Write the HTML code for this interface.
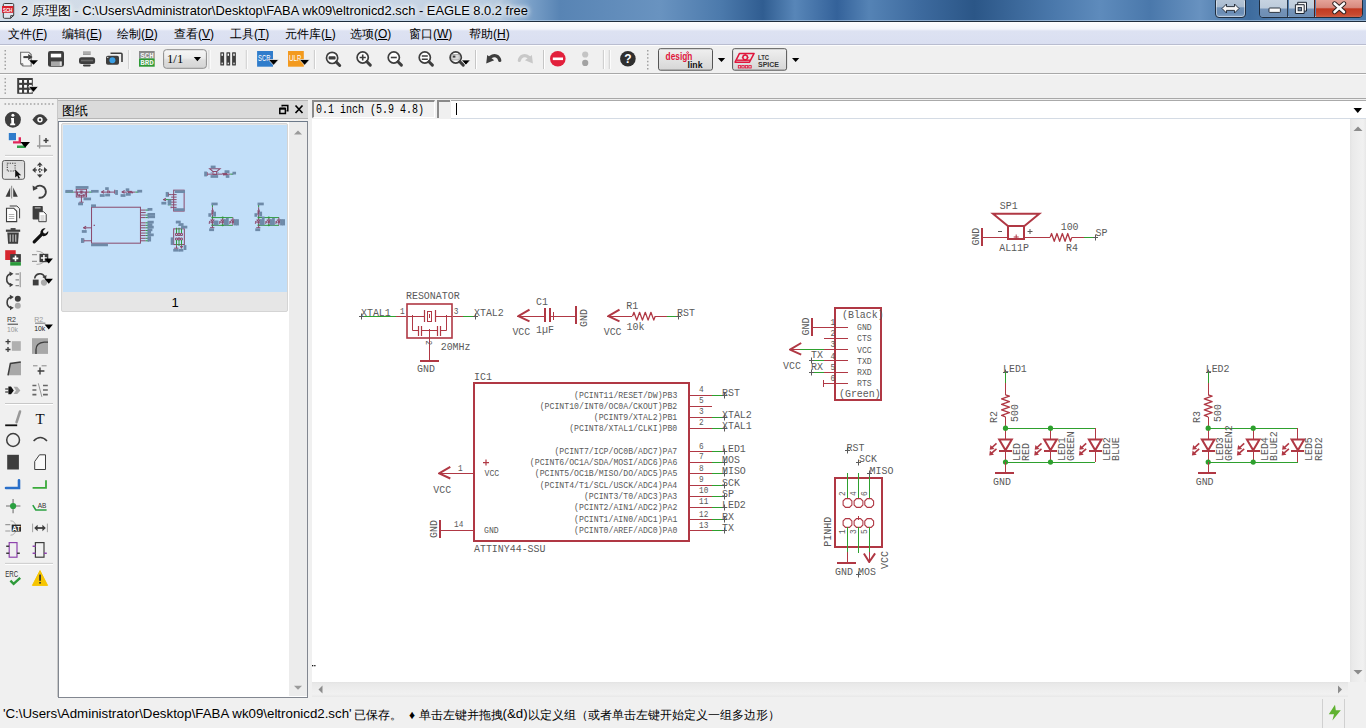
<!DOCTYPE html>
<html><head><meta charset="utf-8">
<style>
*{margin:0;padding:0;box-sizing:border-box}
html,body{width:1366px;height:728px;overflow:hidden;background:#f0f0f0;font-family:"Liberation Sans",sans-serif;font-size:12px;color:#000}
.a{position:absolute}
#title{left:0;top:0;width:1366px;height:22px;background:linear-gradient(90deg,#d3dde8 0px,#cdd8e5 300px,#c6d4e4 420px,#b5c9de 500px,#7aa0c8 530px,#5884b4 560px,#6993c0 660px,#4c7aac 720px,#305d91 763px,#5886b8 795px,#34629a 837px,#5583b5 869px,#3d6a9e 920px,#2b5687 974px,#4a78ab 1053px,#5e8bbc 1100px,#4a78ab 1150px,#6892c0 1200px,#3e6c9e 1250px,#5a87b8 1300px,#4a78aa 1366px);border-bottom:1px solid #1e2d3e}
#title .t{left:21px;top:3px;font-size:12.9px;white-space:nowrap;color:#000;text-shadow:0 0 6px #fff,0 0 6px #fff,0 0 4px #fff}
#menu{left:0;top:22px;width:1366px;height:23px;background:linear-gradient(#fdfdfe 0,#f3f5fb 7px,#e9ecf7 8px,#dde2f2 9px,#dadff1 100%);border-bottom:1px solid #b9bdd0}
#menu span{position:absolute;top:4px;white-space:nowrap;font-size:12px}
#sch text{font-family:"Liberation Mono",monospace}
</style></head>
<body>
<div id="title" class="a">
 <svg class="a" style="left:0;top:0" width="18" height="21" viewBox="0 0 18 21">
  <path d="M4.5 3.5h8a1.2 1.2 0 0 1 1.2 1.2v10.6l-3 3h-6.2a1.2 1.2 0 0 1-1.2-1.2V4.7a1.2 1.2 0 0 1 1.2-1.2z" fill="rgba(235,240,246,.5)" stroke="#3a3a3a" stroke-width="1"/>
  <path d="M10.7 18.3v-2.6h3" fill="none" stroke="#3a3a3a" stroke-width="1"/>
  <rect x="2" y="6" width="11.3" height="6.8" fill="#d8202c"/>
  <text x="7.65" y="11.6" font-size="5.6" fill="#fff" text-anchor="middle" font-weight="bold" textLength="9.4" lengthAdjust="spacingAndGlyphs">SCH</text>
 </svg>
 <div class="a t">2 原理图 - C:\Users\Administrator\Desktop\FABA wk09\eltronicd2.sch - EAGLE 8.0.2 free</div>
</div>
<div class="a" style="left:1215px;top:-3px;width:31px;height:21px;border:1px solid #1f2d3f;border-radius:4px;background:linear-gradient(#b6c6d8 0,#a8bbd0 45%,#6f90b6 52%,#6a8cb4 80%,#88a6c8 100%);box-shadow:inset 0 0 0 1px rgba(255,255,255,.45)"></div>
<svg class="a" style="left:1221px;top:3px" width="19" height="11"><path d="M1 5.5L5.5 1v2.6h8V1L18 5.5 13.5 10V7.4h-8V10z" fill="#f6f6f6" stroke="#1c2430" stroke-width="0.9"/></svg>
<div class="a" style="left:1259px;top:-3px;width:104px;height:21px;border:1px solid #1f2d3f;border-radius:4px;overflow:hidden;box-shadow:inset 0 0 0 1px rgba(255,255,255,.45)">
 <div class="a" style="left:0;top:0;width:28px;height:21px;background:linear-gradient(#c9d5e2 0,#bccbdb 48%,#7594b9 52%,#6e8eb4 85%,#8eaacb 100%);border-right:1px solid #2a3a4e"></div>
 <div class="a" style="left:29px;top:0;width:26px;height:21px;background:linear-gradient(#c9d5e2 0,#bccbdb 48%,#7594b9 52%,#6e8eb4 85%,#8eaacb 100%);border-right:1px solid #5a1a10"></div>
 <div class="a" style="left:56px;top:0;width:48px;height:21px;background:linear-gradient(#e8aaa0 0,#d88a7e 45%,#c23a22 52%,#c84a30 80%,#d87a60 100%)"></div>
</div>
<svg class="a" style="left:1268px;top:7px" width="14" height="7"><rect x="1" y="1" width="11.4" height="4.4" rx="0.8" fill="#fafafa" stroke="#1c2430" stroke-width="0.9"/></svg>
<svg class="a" style="left:1294px;top:1px" width="14" height="14"><path d="M3.7 1.3h8.8v8.8H3.7z" fill="#f4f4f4" stroke="#1c2430" stroke-width="1"/><path d="M1.4 3.7h8.8v8.8H1.4z" fill="#f4f4f4" stroke="#1c2430" stroke-width="1"/><rect x="4.1" y="6.4" width="3.4" height="3.4" fill="#6f86a0" stroke="#1c2430" stroke-width="0.8"/></svg>
<svg class="a" style="left:1332px;top:1px" width="15" height="14"><path d="M2.5 2.5l9.5 8.5M12 2.5l-9.5 8.5" stroke="#2a1e1e" stroke-width="4.4" stroke-linecap="round"/><path d="M2.5 2.5l9.5 8.5M12 2.5l-9.5 8.5" stroke="#fbfbfb" stroke-width="2.6" stroke-linecap="round"/></svg>
<div class="a" style="left:0;top:20px;width:1366px;height:1px;background:rgba(200,220,240,.55)"></div>
<div id="menu" class="a">
 <span style="left:8px">文件(<u>F</u>)</span>
 <span style="left:62px">编辑(<u>E</u>)</span>
 <span style="left:117px">绘制(<u>D</u>)</span>
 <span style="left:174px">查看(<u>V</u>)</span>
 <span style="left:230px">工具(<u>T</u>)</span>
 <span style="left:285px">元件库(<u>L</u>)</span>
 <span style="left:350px">选项(<u>O</u>)</span>
 <span style="left:409px">窗口(<u>W</u>)</span>
 <span style="left:469px">帮助(<u>H</u>)</span>
</div>
<!-- toolbars background -->
<div class="a" style="left:0;top:45px;width:1366px;height:28px;background:#f0f0f0;border-top:1px solid #fdfdfd"></div>
<div class="a" style="left:0;top:73px;width:1366px;height:1px;background:#a8a8a8"></div>
<div class="a" style="left:0;top:74px;width:1366px;height:1px;background:#fcfcfc"></div>
<div class="a" style="left:0;top:98px;width:1366px;height:1px;background:#a8a8a8"></div>
<svg class="a" style="left:0;top:0" width="820" height="100" viewBox="0 0 820 100"><rect x="4.5" y="50" width="1.5" height="1.5" fill="#a0a0a0"/><rect x="4.5" y="53.6" width="1.5" height="1.5" fill="#a0a0a0"/><rect x="4.5" y="57.2" width="1.5" height="1.5" fill="#a0a0a0"/><rect x="4.5" y="60.800000000000004" width="1.5" height="1.5" fill="#a0a0a0"/><rect x="4.5" y="64.4" width="1.5" height="1.5" fill="#a0a0a0"/><rect x="4.5" y="68.0" width="1.5" height="1.5" fill="#a0a0a0"/><path d="M20.6 52.2h8.2l2.4 2.4v11.4h-8.3l-2.3-2.3z" fill="#f6f6f6" stroke="#6e6e6e" stroke-width="1.1"/><path d="M20.6 63.7h2.3v2.3" fill="none" stroke="#6e6e6e" stroke-width="0.9"/><path d="M23.4 57.1h5.2" stroke="#3e3e3e" stroke-width="2"/><path d="M28.2 53.9l4.4 3.2-4.4 3.2z" fill="#3e3e3e"/><path d="M29.1 60.3H38L33.55 64.8z" fill="#000"/><rect x="48" y="51" width="16" height="15.7" rx="2.2" fill="#3e3e3e"/><rect x="50.8" y="53.7" width="10.4" height="3.7" fill="#fff"/><rect x="51" y="61.4" width="11" height="4.6" fill="#a8a8a8"/><rect x="59.8" y="61.6" width="1.6" height="4" fill="#e0e0e0"/><rect x="83" y="51.4" width="7.7" height="3.6" fill="#9a9a9a"/><rect x="83" y="52.6" width="7.7" height="0.8" fill="#c8c8c8"/><rect x="79" y="57.3" width="16.1" height="6.6" rx="2.5" fill="#3e3e3e"/><rect x="81" y="59.7" width="12" height="1.6" fill="#6a6a6a"/><rect x="83" y="64.6" width="7.7" height="1.8" rx="0.8" fill="#3e3e3e"/><path d="M110.5 53.2h10.5a1 1 0 0 1 1 1v7.8" stroke="#3e3e3e" stroke-width="1.6" fill="none"/><rect x="106" y="55.8" width="13" height="9" rx="1.8" fill="#3e3e3e"/><circle cx="112.4" cy="60.3" r="3" fill="#3a9ee4"/><circle cx="107.8" cy="57.4" r="0.6" fill="#fff"/><line x1="128.8" y1="50" x2="128.8" y2="69" stroke="#c6c6c6"/><line x1="129.8" y1="50" x2="129.8" y2="69" stroke="#fff"/><rect x="139" y="51" width="15.7" height="7.4" fill="#8a8a8a"/><rect x="139" y="58.4" width="15.7" height="8.3" fill="#2f9a35"/><text x="146.9" y="57.6" font-size="7" font-weight="bold" fill="#f4f4f4" text-anchor="middle" font-family="Liberation Mono" textLength="13.5" lengthAdjust="spacingAndGlyphs">SCH</text><text x="146.9" y="65.4" font-size="7.4" font-weight="bold" fill="#f4f4f4" text-anchor="middle" font-family="Liberation Mono" textLength="13.5" lengthAdjust="spacingAndGlyphs">BRD</text><defs><linearGradient id="cg" x1="0" y1="0" x2="0" y2="1"><stop offset="0" stop-color="#f6f6f6"/><stop offset="0.45" stop-color="#ececec"/><stop offset="0.55" stop-color="#dedede"/><stop offset="1" stop-color="#d4d4d4"/></linearGradient><linearGradient id="bg2" x1="0" y1="0" x2="0" y2="1"><stop offset="0" stop-color="#f0f0f0"/><stop offset="1" stop-color="#d6d6d6"/></linearGradient></defs><rect x="163.6" y="49.7" width="42.8" height="18.6" rx="2.8" fill="url(#cg)" stroke="#8c8c8c" stroke-width="1"/><text x="167" y="62.8" font-size="11.5" font-family="Liberation Serif" fill="#000" textLength="16.3" lengthAdjust="spacingAndGlyphs">1/1</text><path d="M193.8 57H201L197.4 61.2z" fill="#000"/><line x1="209.1" y1="50" x2="209.1" y2="69" stroke="#c6c6c6"/><line x1="210.1" y1="50" x2="210.1" y2="69" stroke="#fff"/><rect x="220.3" y="52.2" width="3.8" height="13.3" rx="0.6" fill="#3e3e3e"/><rect x="221.5" y="53.6" width="1.4" height="2.2" fill="#fff"/><rect x="221.5" y="62.6" width="1.4" height="1.6" fill="#ddd"/><rect x="226.4" y="52.2" width="3.8" height="13.3" rx="0.6" fill="#3e3e3e"/><rect x="227.6" y="53.6" width="1.4" height="2.2" fill="#fff"/><rect x="227.6" y="62.6" width="1.4" height="1.6" fill="#ddd"/><rect x="232.1" y="52.2" width="3.8" height="13.3" rx="0.6" fill="#3e3e3e"/><rect x="233.29999999999998" y="53.6" width="1.4" height="2.2" fill="#fff"/><rect x="233.29999999999998" y="62.6" width="1.4" height="1.6" fill="#ddd"/><line x1="246.3" y1="50" x2="246.3" y2="69" stroke="#c6c6c6"/><line x1="247.3" y1="50" x2="247.3" y2="69" stroke="#fff"/><rect x="257.1" y="51" width="15.9" height="15.7" fill="#2f7ccb"/><text x="258" y="61.2" font-size="8.6" fill="#fff" textLength="12.5" lengthAdjust="spacingAndGlyphs">SCR</text><path d="M268.3 59.5H278.79999999999995L273.54999999999995 65.30000000000001z" fill="#000" stroke="#fff" stroke-width="0.7" stroke-linejoin="round"/><rect x="288" y="51" width="15.8" height="15.7" fill="#f39a1e"/><text x="289" y="61.2" font-size="8.6" fill="#fff" textLength="12.3" lengthAdjust="spacingAndGlyphs">ULP</text><path d="M299.40000000000003 59.5H309.79999999999995L304.6 65.30000000000001z" fill="#000" stroke="#fff" stroke-width="0.7" stroke-linejoin="round"/><line x1="314.4" y1="50" x2="314.4" y2="69" stroke="#c6c6c6"/><line x1="315.4" y1="50" x2="315.4" y2="69" stroke="#fff"/><circle cx="332.1" cy="57.9" r="5.6" fill="#fff" stroke="#3e3e3e" stroke-width="1.7"/><line x1="336.3" y1="62.1" x2="339.70000000000005" y2="65.5" stroke="#3e3e3e" stroke-width="3" stroke-linecap="round"/><rect x="328.6" y="56.3" width="7" height="3.2" rx="0.8" fill="#3e3e3e"/><circle cx="362.7" cy="57.5" r="5.6" fill="#fff" stroke="#3e3e3e" stroke-width="1.7"/><line x1="366.9" y1="61.7" x2="370.3" y2="65.1" stroke="#3e3e3e" stroke-width="3" stroke-linecap="round"/><path d="M359.6 57.5h6.2M362.7 54.4v6.2" stroke="#3e3e3e" stroke-width="1.6"/><circle cx="393.8" cy="57.5" r="5.6" fill="#fff" stroke="#3e3e3e" stroke-width="1.7"/><line x1="398.0" y1="61.7" x2="401.40000000000003" y2="65.1" stroke="#3e3e3e" stroke-width="3" stroke-linecap="round"/><path d="M390.8 57.5h6" stroke="#3e3e3e" stroke-width="1.6"/><circle cx="424.8" cy="57.5" r="5.6" fill="#fff" stroke="#3e3e3e" stroke-width="1.7"/><line x1="429.0" y1="61.7" x2="432.40000000000003" y2="65.1" stroke="#3e3e3e" stroke-width="3" stroke-linecap="round"/><path d="M421.8 56h6M421.8 59.2h6" stroke="#3e3e3e" stroke-width="1.5"/><circle cx="455.7" cy="57.5" r="5.6" fill="#fff" stroke="#3e3e3e" stroke-width="1.7"/><line x1="459.9" y1="61.7" x2="463.3" y2="65.1" stroke="#3e3e3e" stroke-width="3" stroke-linecap="round"/><rect x="451.8" y="54.6" width="7.4" height="5.4" fill="#d8d8d8" stroke="#888" stroke-width="0.6"/><rect x="452.8" y="55.6" width="2.6" height="2" fill="#3e3e3e"/><path d="M461.40000000000003 60.0H470.4L465.9 65.10000000000001z" fill="#000" stroke="#fff" stroke-width="0.7" stroke-linejoin="round"/><line x1="475.5" y1="50" x2="475.5" y2="69" stroke="#c6c6c6"/><line x1="476.5" y1="50" x2="476.5" y2="69" stroke="#fff"/><path d="M499.8 60.5C499 55.8 494.5 54 490.3 57.3" stroke="#3e3e3e" stroke-width="3.2" fill="none" stroke-linecap="round"/><path d="M486.2 63.4l1-8.4 7 5.2z" fill="#3e3e3e"/><path d="M519.3 60.5C520.1 55.8 524.6 54 528.8 57.3" stroke="#c8c8c8" stroke-width="3.2" fill="none" stroke-linecap="round"/><path d="M532.9 63.4l-1-8.4-7 5.2z" fill="#c8c8c8"/><line x1="543.5" y1="50" x2="543.5" y2="69" stroke="#c6c6c6"/><line x1="544.5" y1="50" x2="544.5" y2="69" stroke="#fff"/><circle cx="557.8" cy="58.8" r="7.8" fill="#e2203c"/><rect x="552.8" y="57.5" width="10.2" height="2.6" fill="#fff"/><circle cx="585.2" cy="54.5" r="3.1" fill="#c4c4c4"/><circle cx="585.2" cy="62.9" r="3.1" fill="#a2a2a2"/><line x1="603.4" y1="50" x2="603.4" y2="69" stroke="#c6c6c6"/><line x1="604.4" y1="50" x2="604.4" y2="69" stroke="#fff"/><line x1="609.3" y1="50" x2="609.3" y2="69" stroke="#c6c6c6"/><line x1="610.3" y1="50" x2="610.3" y2="69" stroke="#fff"/><circle cx="627.9" cy="58.8" r="7.8" fill="#2f2f2f"/><text x="627.9" y="63.2" font-size="12" font-weight="bold" fill="#fff" text-anchor="middle">?</text><rect x="647" y="50" width="1.5" height="1.5" fill="#a0a0a0"/><rect x="647" y="53.6" width="1.5" height="1.5" fill="#a0a0a0"/><rect x="647" y="57.2" width="1.5" height="1.5" fill="#a0a0a0"/><rect x="647" y="60.800000000000004" width="1.5" height="1.5" fill="#a0a0a0"/><rect x="647" y="64.4" width="1.5" height="1.5" fill="#a0a0a0"/><rect x="647" y="68.0" width="1.5" height="1.5" fill="#a0a0a0"/><rect x="658.5" y="48.7" width="54" height="21.5" rx="2" fill="url(#bg2)" stroke="#555" stroke-width="1"/><text x="665.6" y="60.4" font-size="10" font-weight="bold" fill="#e0163c" textLength="26.8" lengthAdjust="spacingAndGlyphs">design</text><circle cx="687.6" cy="52.6" r="0.9" fill="none" stroke="#e0163c" stroke-width="0.8"/><text x="687.5" y="67.6" font-size="9.4" font-weight="bold" fill="#111" textLength="15" lengthAdjust="spacingAndGlyphs">link</text><path d="M717.8 58.1H725.2L721.5 62.1z" fill="#000"/><rect x="732.6" y="48.7" width="54" height="21.5" rx="2" fill="url(#bg2)" stroke="#555" stroke-width="1"/><path d="M739.5 53.4h14.6l-4.6 8.8h-14.4z" fill="none" stroke="#e0163c" stroke-width="1.5" stroke-linejoin="round"/><path d="M736.5 60.2h13.5" stroke="#e0163c" stroke-width="1.4"/><circle cx="745.2" cy="57.4" r="2.3" fill="none" stroke="#e0163c" stroke-width="1.5"/><path d="M745.2 54v1.2M745.2 59.6v1.2M741.8 57.4h1.2M747.4 57.4h1.2" stroke="#e0163c" stroke-width="1"/><rect x="738.3" y="65.6" width="2.4" height="2.4" fill="none" stroke="#e0163c" stroke-width="0.9"/><rect x="741.8" y="65.6" width="2.4" height="2.4" fill="none" stroke="#e0163c" stroke-width="0.9"/><rect x="745.3" y="65.6" width="2.4" height="2.4" fill="none" stroke="#e0163c" stroke-width="0.9"/><rect x="748.8" y="65.6" width="2.4" height="2.4" fill="none" stroke="#e0163c" stroke-width="0.9"/><text x="758" y="60.3" font-size="6.4" font-weight="bold" fill="#333" textLength="11" lengthAdjust="spacingAndGlyphs">LTC</text><text x="758" y="67.2" font-size="6.4" font-weight="bold" fill="#333" textLength="21" lengthAdjust="spacingAndGlyphs">SPICE</text><path d="M792 58.1H799.3L795.65 62.1z" fill="#000"/><rect x="4.5" y="78" width="1.5" height="1.5" fill="#a0a0a0"/><rect x="4.5" y="81.6" width="1.5" height="1.5" fill="#a0a0a0"/><rect x="4.5" y="85.19999999999999" width="1.5" height="1.5" fill="#a0a0a0"/><rect x="4.5" y="88.79999999999998" width="1.5" height="1.5" fill="#a0a0a0"/><rect x="4.5" y="92.39999999999998" width="1.5" height="1.5" fill="#a0a0a0"/><rect x="17.2" y="78" width="15.6" height="15.8" fill="#3e3e3e"/><rect x="19.2" y="80.0" width="2.8" height="2.8" fill="#fff"/><rect x="24.1" y="80.0" width="2.8" height="2.8" fill="#fff"/><rect x="29.0" y="80.0" width="2.8" height="2.8" fill="#fff"/><rect x="19.2" y="84.9" width="2.8" height="2.8" fill="#fff"/><rect x="24.1" y="84.9" width="2.8" height="2.8" fill="#fff"/><rect x="29.0" y="84.9" width="2.8" height="2.8" fill="#fff"/><rect x="19.2" y="89.8" width="2.8" height="2.8" fill="#fff"/><rect x="24.1" y="89.8" width="2.8" height="2.8" fill="#fff"/><rect x="29.0" y="89.8" width="2.8" height="2.8" fill="#fff"/><path d="M28.400000000000002 86.60000000000001H38.4L33.4 92.30000000000001z" fill="#000" stroke="#fff" stroke-width="0.7" stroke-linejoin="round"/></svg>
<!-- left toolbar -->
<svg class="a" style="left:0;top:0" width="58" height="600" viewBox="0 0 58 600"><rect x="4.5" y="103.2" width="1.6" height="1.6" fill="#a8a8a8"/><rect x="8.15" y="103.2" width="1.6" height="1.6" fill="#a8a8a8"/><rect x="11.8" y="103.2" width="1.6" height="1.6" fill="#a8a8a8"/><rect x="15.450000000000001" y="103.2" width="1.6" height="1.6" fill="#a8a8a8"/><rect x="19.1" y="103.2" width="1.6" height="1.6" fill="#a8a8a8"/><rect x="22.75" y="103.2" width="1.6" height="1.6" fill="#a8a8a8"/><rect x="26.4" y="103.2" width="1.6" height="1.6" fill="#a8a8a8"/><rect x="30.049999999999997" y="103.2" width="1.6" height="1.6" fill="#a8a8a8"/><rect x="33.699999999999996" y="103.2" width="1.6" height="1.6" fill="#a8a8a8"/><rect x="37.349999999999994" y="103.2" width="1.6" height="1.6" fill="#a8a8a8"/><rect x="40.99999999999999" y="103.2" width="1.6" height="1.6" fill="#a8a8a8"/><rect x="44.64999999999999" y="103.2" width="1.6" height="1.6" fill="#a8a8a8"/><rect x="48.29999999999999" y="103.2" width="1.6" height="1.6" fill="#a8a8a8"/><rect x="51.94999999999999" y="103.2" width="1.6" height="1.6" fill="#a8a8a8"/><circle cx="12.9" cy="119.7" r="8" fill="#3e3e3e"/><circle cx="12.9" cy="115.3" r="1.5" fill="#fff"/><path d="M11 118h3v5.6h1.2v1.6h-5v-1.6h1.1v-4h-0.3z" fill="#fff"/><path d="M32.4 119.7Q40 109 47.6 119.7Q40 130.4 32.4 119.7z" fill="#3e3e3e"/><circle cx="40" cy="119.7" r="2.7" fill="#fff"/><circle cx="40" cy="119.7" r="1.2" fill="#3e3e3e"/><rect x="8.8" y="133" width="7.2" height="7.2" fill="#2f7ccb"/><path d="M13 142.4h6.8v-5.2" stroke="#e0265a" stroke-width="2.4" fill="none"/><path d="M17 146.8h7.5v-3.6" stroke="#2fa04a" stroke-width="2.4" fill="none"/><path d="M20.4 142H30L25.2 147.4z" fill="#000"/><path d="M39.6 135v13.4M37 146h14" stroke="#9a9a9a" stroke-width="1.4"/><path d="M43.5 140.5h5M46 138v5" stroke="#3e3e3e" stroke-width="1.5"/><line x1="5" y1="155.4" x2="53" y2="155.4" stroke="#c8c8c8"/><line x1="5" y1="156.4" x2="53" y2="156.4" stroke="#fff"/><defs><linearGradient id="sg" x1="0" y1="0" x2="0" y2="1"><stop offset="0" stop-color="#d8d8d8"/><stop offset="1" stop-color="#e8e8e8"/></linearGradient></defs><rect x="2.4" y="160.5" width="22.2" height="18.8" rx="2.2" fill="url(#sg)" stroke="#5a5a5a" stroke-width="1"/><rect x="7.3" y="163.2" width="7.8" height="7.8" fill="none" stroke="#3e3e3e" stroke-width="1.1" stroke-dasharray="1.2 1.2"/><path d="M15.2 169.4v8.2l2-1.9 1.4 3 1.3-0.6-1.4-2.9h2.7z" fill="#111"/><path d="M39.8 165.5v9M35.3 170h9" stroke="#3e3e3e" stroke-width="1.6" stroke-dasharray="1.5 1.3"/><path d="M39.8 162.2l-2.9 3.4h5.8zM39.8 177.8l-2.9-3.4h5.8zM32.2 170l3.4-2.9v5.8zM47.4 170l-3.4-2.9v5.8z" fill="#3e3e3e"/><path d="M11.6 185.8v12.8" stroke="#9a9a9a" stroke-width="1.2"/><path d="M10.2 187.4l-4.6 9.4h4.6z" fill="#3e3e3e"/><path d="M13.2 187.4l4.6 9.4h-4.6z" fill="#3e3e3e"/><path d="M35.5 187.6A6 6 0 1 1 38.6 197.6" stroke="#3e3e3e" stroke-width="1.8" fill="none"/><path d="M32.6 185.4l0.4 5.4 4.8-2.2z" fill="#3e3e3e"/><path d="M9.7 206h7.2l2.7 2.7v9.6" stroke="#3e3e3e" stroke-width="1" fill="none"/><path d="M6.5 208.2h7.2l3 3v10.4h-10.2z" fill="#fff" stroke="#3e3e3e" stroke-width="1.1"/><path d="M8.8 214.5h5.5M8.8 216.5h5.5M8.8 218.5h5.5" stroke="#aaa" stroke-width="0.9"/><rect x="32.6" y="205.9" width="10.2" height="13.6" rx="0.8" fill="#3e3e3e"/><rect x="34.8" y="207.2" width="5.8" height="1.3" fill="#aaa"/><path d="M38.8 211.7h4.8l2.6 2.6v7.4h-7.4z" fill="#fff" stroke="#3e3e3e" stroke-width="1"/><path d="M40.5 216h4M40.5 218h4M40.5 220h4" stroke="#aaa" stroke-width="0.8"/><rect x="5.9" y="229.6" width="14.3" height="2.2" fill="#3e3e3e"/><rect x="10.6" y="228.1" width="5" height="1.8" fill="#3e3e3e"/><path d="M7.3 232.5h11.5l-0.8 11.3h-9.9z" fill="#3e3e3e"/><path d="M10.2 234.5v7.3M13 234.5v7.3M15.8 234.5v7.3" stroke="#ddd" stroke-width="1"/><path d="M34.2 241.8l8-8" stroke="#111" stroke-width="3.2" stroke-linecap="round"/><path d="M40.4 233.4a4.6 4.6 0 0 1 5.2-5.1l-2.6 2.6 0.4 2.3 2.3 0.4 2.6-2.6a4.6 4.6 0 0 1-5.1 5.2z" fill="#111"/><rect x="5.2" y="250.2" width="10.5" height="9.8" fill="#d6262e"/><rect x="10.2" y="254.1" width="10.7" height="8" fill="#3e3e3e"/><rect x="10.2" y="262.1" width="10.7" height="3.5" fill="#2a9a3a"/><path d="M15.5 255.6v5.6M12.7 258.4h5.6" stroke="#fff" stroke-width="1.6"/><path d="M36.5 251.2q8 0 9 6.6q-1 6.6-9 6.6" stroke="#aaa" stroke-width="1" fill="none"/><path d="M32 254.6h5M32 261.4h5" stroke="#999" stroke-width="1.2"/><rect x="39.5" y="253.8" width="8.8" height="8.4" fill="#3e3e3e"/><path d="M43.9 255v6M40.9 258h6" stroke="#fff" stroke-width="1.5"/><path d="M44.6 258.6H52.9L48.75 263.6z" fill="#000"/><path d="M11 273.6a5.8 5.8 0 0 0 0 11.2" stroke="#3e3e3e" stroke-width="1.6" fill="none"/><path d="M9.4 271.6l4 2.2-3.6 2.4zM9.6 287.2l3.8-2.4-3.8-2z" fill="#3e3e3e"/><path d="M15.5 274h3.5M15.5 279.8h3.5M15.5 285.6h3.5" stroke="#888" stroke-width="1.3"/><rect x="19.5" y="272.2" width="1.5" height="15" fill="#aaa"/><path d="M34.7 278.5a5.2 5.2 0 0 1 10-1.4" stroke="#3e3e3e" stroke-width="1.6" fill="none"/><path d="M46.6 275l-0.6 4.5-3.6-2.6z" fill="#3e3e3e"/><rect x="32.8" y="279.6" width="5.8" height="5.8" fill="#3e3e3e"/><circle cx="44" cy="282.6" r="3.1" fill="#aaa"/><path d="M44.6 278.8H52.9L48.75 283.8z" fill="#000"/><path d="M11.4 296.8a5.8 5.8 0 0 0 0 11.2" stroke="#3e3e3e" stroke-width="1.6" fill="none"/><path d="M9.8 294.8l4 2.2-3.6 2.4zM10 310.2l3.8-2.4-3.8-2z" fill="#3e3e3e"/><circle cx="17.8" cy="298.8" r="3" fill="#3e3e3e"/><circle cx="17.8" cy="305.8" r="3" fill="#aaa"/><text x="7" y="322.2" font-size="7.4" fill="#333" textLength="9" lengthAdjust="spacingAndGlyphs">R2</text><rect x="7.6" y="323.6" width="10.4" height="1.3" fill="#666"/><text x="7" y="331.6" font-size="7.4" fill="#999" textLength="11" lengthAdjust="spacingAndGlyphs">10k</text><text x="34.2" y="322" font-size="7.4" fill="#999" textLength="9" lengthAdjust="spacingAndGlyphs">R2</text><rect x="35" y="322.6" width="10.4" height="1.2" fill="#888"/><text x="34.2" y="331" font-size="7.4" fill="#222" textLength="11" lengthAdjust="spacingAndGlyphs">10k</text><path d="M44.6 324.6H52.9L48.75 329.4z" fill="#000"/><path d="M8 339.2v5M5.5 341.7h5M8 347v5M5.5 349.5h5" stroke="#3e3e3e" stroke-width="1.3"/><rect x="11.8" y="341.2" width="9" height="9.6" fill="#b0b0b0"/><rect x="32" y="338.2" width="16" height="15.7" fill="#a8a8a8"/><path d="M36 353.9v-4.4q0-6.6 8.2-7.4h3.8" stroke="#3e3e3e" stroke-width="1.4" fill="none"/><path d="M10 363.5l11-1.4v13.2h-12.8z" fill="#a8a8a8"/><path d="M8 375.4l2.4-12 10.4-1.3" stroke="#3e3e3e" stroke-width="1.5" fill="none"/><path d="M33 365.8h4.5M41.6 365.8h5" stroke="#888" stroke-width="1"/><path d="M37.6 371h6.8M40 367.6v6.8" stroke="#3e3e3e" stroke-width="1.4"/><path d="M5.2 389h3.2M5.2 392h3.2" stroke="#111" stroke-width="1.2"/><path d="M8.4 386.6h2.6l2.8 3.8-2.8 3.8h-2.6z" fill="#111"/><path d="M13.6 386.8h3.6l3.2 3.6-3.2 3.6h-3.6l2.4-3.6z" fill="#aaa"/><path d="M32.4 385.5h4M32.4 390h4M32.4 394.6h4M43 385.5h4.8M43 390h4.8M43 394.6h4.8" stroke="#666" stroke-width="1.6"/><path d="M38.3 383.3l3.6 13.6" stroke="#999" stroke-width="1"/><line x1="5" y1="403.5" x2="53" y2="403.5" stroke="#c8c8c8"/><line x1="5" y1="404.5" x2="53" y2="404.5" stroke="#fff"/><rect x="5.2" y="424.4" width="12" height="1.8" fill="#111"/><path d="M16.6 422.2l3.4-10.6" stroke="#999" stroke-width="2.6" stroke-linecap="round"/><text x="40.1" y="423.7" font-size="15" font-family="Liberation Serif" fill="#111" text-anchor="middle">T</text><circle cx="13.1" cy="440" r="6.4" fill="none" stroke="#3e3e3e" stroke-width="1.5"/><path d="M33.6 441q6.8-7 13.4 0" fill="none" stroke="#3e3e3e" stroke-width="1.5"/><rect x="7.2" y="454.8" width="11.7" height="14.7" fill="#3e3e3e"/><path d="M34.7 461.5L39.5 454.8h6v14.7h-10.8z" fill="#fafafa" stroke="#3e3e3e" stroke-width="1"/><path d="M6 488h13v-7.8" fill="none" stroke="#2a6fc9" stroke-width="2.6" stroke-linecap="round"/><path d="M32.6 487.8h13.4v-7.6" fill="none" stroke="#3aaa3a" stroke-width="1.8"/><path d="M6 506h14.4M13.1 499v14.2" stroke="#9a9a9a" stroke-width="1.6"/><circle cx="13.1" cy="506" r="3.1" fill="#2aa040"/><path d="M32.8 505.2l3 4.8h10.8" fill="none" stroke="#2aa040" stroke-width="1.6"/><text x="37.8" y="508" font-size="7.4" fill="#333" textLength="8.6" lengthAdjust="spacingAndGlyphs">AB</text><path d="M10.5 520.8q5 0 6 7.2q-1 7.2-6 7.2" stroke="#aaa" stroke-width="0.9" fill="none"/><path d="M5.3 524.6h5M5.3 531h5" stroke="#999" stroke-width="1.1"/><rect x="11.7" y="524.6" width="9.3" height="7" fill="#2a2a2a"/><text x="12.3" y="530.8" font-size="6.8" font-weight="bold" fill="#fff" textLength="8.2" lengthAdjust="spacingAndGlyphs">AT</text><path d="M32.6 523.6v8.6M47.4 523.6v8.6" stroke="#999" stroke-width="0.9"/><path d="M35.5 528h9" stroke="#3e3e3e" stroke-width="1.8"/><path d="M34.2 528l3.4-3.2v6.4zM45.8 528l-3.4-3.2v6.4z" fill="#3e3e3e"/><rect x="9.2" y="542.6" width="7.8" height="14.6" fill="none" stroke="#8e44ad" stroke-width="1.2"/><path d="M6.2 546.3h3M6.2 553.3h3M17 553.3h2.8" stroke="#3e3e3e" stroke-width="1.4"/><rect x="35.4" y="542.6" width="8.6" height="14.6" fill="none" stroke="#3e3e3e" stroke-width="1.2"/><path d="M32.6 546.3h3M32.6 553.3h3M44 553.3h2.8" stroke="#8e44ad" stroke-width="1.4"/><line x1="5" y1="563.4" x2="53" y2="563.4" stroke="#c8c8c8"/><line x1="5" y1="564.4" x2="53" y2="564.4" stroke="#fff"/><text x="5.2" y="576.6" font-size="8.4" fill="#333" textLength="12.9" lengthAdjust="spacingAndGlyphs">ERC</text><path d="M10.4 580.6l3.2 3.2 6.6-6" fill="none" stroke="#2e9a3a" stroke-width="2.4"/><path d="M40 570.6l7.6 14.8h-15.2z" fill="#f6c500" stroke="#f6c500" stroke-width="1" stroke-linejoin="round"/><rect x="39.2" y="574.6" width="1.7" height="6.2" fill="#333"/><rect x="39.2" y="582" width="1.7" height="1.6" fill="#333"/></svg>
<div class="a" style="left:57px;top:99px;width:1px;height:598px;background:#c8c8c8"></div>
<!-- panel -->
<div class="a" style="left:58px;top:100px;width:250px;height:19px;background:#dadada;border-top:1px solid #b8b8b8;border-bottom:1px solid #b6b6b6"></div>
<div class="a" style="left:62px;top:102px;font-size:13px">图纸</div>
<svg class="a" style="left:278px;top:104px" width="28" height="11" viewBox="0 0 28 11">
 <path d="M4.2 2.6V1.4h5.6v5.4H8.6" fill="none" stroke="#000" stroke-width="1.5"/><path d="M1.8 4.4h5.6v5h-5.6z" fill="none" stroke="#000" stroke-width="1.5"/><path d="M1.8 4.6h5.6" stroke="#000" stroke-width="2"/>
 <path d="M17.5 1.5l7 7.5M24.5 1.5l-7 7.5" stroke="#000" stroke-width="1.7"/>
</svg>
<div class="a" style="left:58px;top:121px;width:250px;height:577px;background:#fff;border:1px solid #828790;border-top-color:#6d7a8a"></div>
<div class="a" style="left:289px;top:122px;width:18px;height:574px;background:#ececec"></div>
<svg class="a" style="left:289px;top:122px" width="18" height="574"><path d="M5 12.5h8l-4-4z" fill="#9a9a9a"/><path d="M5 563.8h8l-4 4z" fill="#9a9a9a"/></svg>
<div class="a" style="left:61px;top:123px;width:227px;height:189px;border:1px solid #d4d4d4;border-radius:2px;background:#e6e6e6"></div>
<div class="a" style="left:63px;top:125px;width:224px;height:167px;background:#c2dff9"></div>
<svg class="a" style="left:63px;top:125px" width="224" height="167" viewBox="63 125 224 167">
 <g transform="translate(-16.3 120.1) scale(0.2275)" fill="none"><line x1="362" y1="316.5" x2="396" y2="316.5" stroke="#2f9a3c" stroke-width="4.4"/><line x1="396" y1="316.5" x2="406" y2="316.5" stroke="#8a4a6c" stroke-width="4.4"/><path d="M359.0 316.5h5M361.5 313.5v6" stroke="#6a88a8" stroke-width="4.4" fill="none"/><rect x="407" y="304" width="45" height="34" stroke="#8a4a6c" stroke-width="4.4" fill="none"/><line x1="407" y1="316.5" x2="424" y2="316.5" stroke="#8a4a6c" stroke-width="4.4"/><line x1="436" y1="316.5" x2="452" y2="316.5" stroke="#8a4a6c" stroke-width="4.4"/><line x1="424.5" y1="310" x2="424.5" y2="322" stroke="#8a4a6c" stroke-width="4.4"/><line x1="435.5" y1="310" x2="435.5" y2="322" stroke="#8a4a6c" stroke-width="4.4"/><rect x="427.5" y="311.5" width="4" height="10" stroke="#8a4a6c" stroke-width="4.4" fill="none"/><line x1="429.5" y1="314" x2="429.5" y2="318" stroke="#8a4a6c" stroke-width="4.4"/><polyline points="412.5,315 412.5,330.5 418.5,330.5" stroke="#8a4a6c" stroke-width="4.4" fill="none"/><line x1="418.5" y1="326" x2="418.5" y2="336" stroke="#8a4a6c" stroke-width="4.4"/><line x1="421.5" y1="326" x2="421.5" y2="336" stroke="#8a4a6c" stroke-width="4.4"/><line x1="421" y1="330.5" x2="438" y2="330.5" stroke="#8a4a6c" stroke-width="4.4"/><line x1="437.5" y1="326" x2="437.5" y2="336" stroke="#8a4a6c" stroke-width="4.4"/><line x1="440.5" y1="326" x2="440.5" y2="336" stroke="#8a4a6c" stroke-width="4.4"/><polyline points="440.5,330.5 446.5,330.5 446.5,315" stroke="#8a4a6c" stroke-width="4.4" fill="none"/><line x1="429.5" y1="329" x2="429.5" y2="361" stroke="#8a4a6c" stroke-width="4.4"/><line x1="453" y1="316.5" x2="463" y2="316.5" stroke="#8a4a6c" stroke-width="4.4"/><line x1="463" y1="316.5" x2="475" y2="316.5" stroke="#2f9a3c" stroke-width="4.4"/><path d="M473.0 316.5h5M475.5 313.5v6" stroke="#6a88a8" stroke-width="4.4" fill="none"/><line x1="420" y1="361" x2="439" y2="361" stroke="#8a4a6c" stroke-width="4.4"/><polyline points="529.5,309.59999999999997 518.3,316.2 529.5,321.3" stroke="#8a4a6c" stroke-width="4.4" fill="none" stroke-linejoin="round"/><line x1="517" y1="316.5" x2="545" y2="316.5" stroke="#8a4a6c" stroke-width="4.4"/><line x1="545" y1="308" x2="545" y2="322" stroke="#8a4a6c" stroke-width="4.4"/><line x1="550" y1="308" x2="550" y2="322" stroke="#8a4a6c" stroke-width="4.4"/><line x1="553.5" y1="312" x2="553.5" y2="320" stroke="#8a4a6c" stroke-width="4.4"/><line x1="550" y1="316.5" x2="576" y2="316.5" stroke="#8a4a6c" stroke-width="4.4"/><line x1="576" y1="306" x2="576" y2="324" stroke="#8a4a6c" stroke-width="4.4"/><polyline points="619.5,309.59999999999997 608.3,316.2 619.5,321.3" stroke="#8a4a6c" stroke-width="4.4" fill="none" stroke-linejoin="round"/><line x1="607" y1="316.5" x2="632" y2="316.5" stroke="#8a4a6c" stroke-width="4.4"/><polyline points="632.5,316.2 633.92,312.3 636.76,320.09999999999997 639.59,312.3 642.43,320.09999999999997 645.27,312.3 648.11,320.09999999999997 650.94,312.3 653.78,320.09999999999997 655.2,316.2" stroke="#8a4a6c" stroke-width="4.4" fill="none" stroke-linejoin="round"/><line x1="655" y1="316.5" x2="667" y2="316.5" stroke="#8a4a6c" stroke-width="4.4"/><line x1="667" y1="316.5" x2="678" y2="316.5" stroke="#2f9a3c" stroke-width="4.4"/><path d="M676.0 316.5h5M678.5 313.5v6" stroke="#6a88a8" stroke-width="4.4" fill="none"/><rect x="474" y="383" width="215" height="158" stroke="#8a4a6c" stroke-width="4.4" fill="none"/><line x1="689" y1="395.5" x2="712" y2="395.5" stroke="#8a4a6c" stroke-width="4.4"/><line x1="712" y1="395.5" x2="724" y2="395.5" stroke="#2f9a3c" stroke-width="4.4"/><path d="M722.0 395.5h5M724.5 392.5v6" stroke="#6a88a8" stroke-width="4.4" fill="none"/><line x1="689" y1="406.5" x2="712" y2="406.5" stroke="#8a4a6c" stroke-width="4.4"/><line x1="689" y1="417.5" x2="712" y2="417.5" stroke="#8a4a6c" stroke-width="4.4"/><line x1="712" y1="417.5" x2="724" y2="417.5" stroke="#2f9a3c" stroke-width="4.4"/><path d="M722.0 417.5h5M724.5 414.5v6" stroke="#6a88a8" stroke-width="4.4" fill="none"/><line x1="689" y1="428.5" x2="712" y2="428.5" stroke="#8a4a6c" stroke-width="4.4"/><line x1="712" y1="428.5" x2="724" y2="428.5" stroke="#2f9a3c" stroke-width="4.4"/><path d="M722.0 428.5h5M724.5 425.5v6" stroke="#6a88a8" stroke-width="4.4" fill="none"/><line x1="689" y1="451.5" x2="712" y2="451.5" stroke="#8a4a6c" stroke-width="4.4"/><line x1="712" y1="451.5" x2="724" y2="451.5" stroke="#2f9a3c" stroke-width="4.4"/><path d="M722.0 451.5h5M724.5 448.5v6" stroke="#6a88a8" stroke-width="4.4" fill="none"/><line x1="689" y1="462.5" x2="712" y2="462.5" stroke="#8a4a6c" stroke-width="4.4"/><line x1="712" y1="462.5" x2="724" y2="462.5" stroke="#2f9a3c" stroke-width="4.4"/><path d="M722.0 462.5h5M724.5 459.5v6" stroke="#6a88a8" stroke-width="4.4" fill="none"/><line x1="689" y1="473.5" x2="712" y2="473.5" stroke="#8a4a6c" stroke-width="4.4"/><line x1="712" y1="473.5" x2="724" y2="473.5" stroke="#2f9a3c" stroke-width="4.4"/><path d="M722.0 473.5h5M724.5 470.5v6" stroke="#6a88a8" stroke-width="4.4" fill="none"/><line x1="689" y1="485.5" x2="712" y2="485.5" stroke="#8a4a6c" stroke-width="4.4"/><line x1="712" y1="485.5" x2="724" y2="485.5" stroke="#2f9a3c" stroke-width="4.4"/><path d="M722.0 485.5h5M724.5 482.5v6" stroke="#6a88a8" stroke-width="4.4" fill="none"/><line x1="689" y1="496.5" x2="712" y2="496.5" stroke="#8a4a6c" stroke-width="4.4"/><line x1="712" y1="496.5" x2="724" y2="496.5" stroke="#2f9a3c" stroke-width="4.4"/><path d="M722.0 496.5h5M724.5 493.5v6" stroke="#6a88a8" stroke-width="4.4" fill="none"/><line x1="689" y1="507.5" x2="712" y2="507.5" stroke="#8a4a6c" stroke-width="4.4"/><line x1="712" y1="507.5" x2="724" y2="507.5" stroke="#2f9a3c" stroke-width="4.4"/><path d="M722.0 507.5h5M724.5 504.5v6" stroke="#6a88a8" stroke-width="4.4" fill="none"/><line x1="689" y1="519.5" x2="712" y2="519.5" stroke="#8a4a6c" stroke-width="4.4"/><line x1="712" y1="519.5" x2="724" y2="519.5" stroke="#2f9a3c" stroke-width="4.4"/><path d="M722.0 519.5h5M724.5 516.5v6" stroke="#6a88a8" stroke-width="4.4" fill="none"/><line x1="689" y1="530.5" x2="712" y2="530.5" stroke="#8a4a6c" stroke-width="4.4"/><line x1="712" y1="530.5" x2="724" y2="530.5" stroke="#2f9a3c" stroke-width="4.4"/><path d="M722.0 530.5h5M724.5 527.5v6" stroke="#6a88a8" stroke-width="4.4" fill="none"/><line x1="438" y1="473.5" x2="474" y2="473.5" stroke="#8a4a6c" stroke-width="4.4"/><polyline points="450.3,466.79999999999995 439.1,473.4 450.3,478.5" stroke="#8a4a6c" stroke-width="4.4" fill="none" stroke-linejoin="round"/><path d="M483 462.6h6M486 459.6v6" stroke="#8a4a6c" stroke-width="4.4"/><line x1="440" y1="530.5" x2="474" y2="530.5" stroke="#8a4a6c" stroke-width="4.4"/><line x1="440" y1="520" x2="440" y2="538" stroke="#8a4a6c" stroke-width="4.4"/><rect x="835" y="308" width="46" height="92" stroke="#8a4a6c" stroke-width="4.4" fill="none"/><line x1="824" y1="327.5" x2="848" y2="327.5" stroke="#8a4a6c" stroke-width="4.4"/><line x1="824" y1="338.5" x2="848" y2="338.5" stroke="#8a4a6c" stroke-width="4.4"/><line x1="824" y1="349.5" x2="848" y2="349.5" stroke="#8a4a6c" stroke-width="4.4"/><line x1="824" y1="360.5" x2="848" y2="360.5" stroke="#8a4a6c" stroke-width="4.4"/><line x1="824" y1="372.5" x2="848" y2="372.5" stroke="#8a4a6c" stroke-width="4.4"/><line x1="824" y1="383.5" x2="848" y2="383.5" stroke="#8a4a6c" stroke-width="4.4"/><line x1="812" y1="327.5" x2="824" y2="327.5" stroke="#8a4a6c" stroke-width="4.4"/><line x1="812" y1="318" x2="812" y2="336" stroke="#8a4a6c" stroke-width="4.4"/><polyline points="801.2,343.0 790,349.6 801.2,354.70000000000005" stroke="#8a4a6c" stroke-width="4.4" fill="none" stroke-linejoin="round"/><line x1="789" y1="349.5" x2="800" y2="349.5" stroke="#8a4a6c" stroke-width="4.4"/><line x1="800" y1="349.5" x2="824" y2="349.5" stroke="#2f9a3c" stroke-width="4.4"/><line x1="812" y1="360.5" x2="824" y2="360.5" stroke="#2f9a3c" stroke-width="4.4"/><path d="M809.0 360.5h5M811.5 357.5v6" stroke="#6a88a8" stroke-width="4.4" fill="none"/><line x1="812" y1="372.5" x2="824" y2="372.5" stroke="#2f9a3c" stroke-width="4.4"/><path d="M809.0 372.5h5M811.5 369.5v6" stroke="#6a88a8" stroke-width="4.4" fill="none"/><line x1="823.5" y1="380" x2="823.5" y2="387" stroke="#8a4a6c" stroke-width="4.4"/><rect x="835" y="478" width="47" height="69" stroke="#8a4a6c" stroke-width="4.4" fill="none"/><line x1="847.5" y1="473" x2="847.5" y2="499" stroke="#2f9a3c" stroke-width="4.4"/><path d="M845.5 498.6h4l2.4 2.4v4l-2.4 2.4h-4l-2.4-2.4v-4z" stroke="#8a4a6c" stroke-width="4.4" fill="none"/><path d="M845.5 518.6h4l2.4 2.4v4l-2.4 2.4h-4l-2.4-2.4v-4z" stroke="#8a4a6c" stroke-width="4.4" fill="none"/><line x1="858.5" y1="473" x2="858.5" y2="499" stroke="#2f9a3c" stroke-width="4.4"/><path d="M856.5 498.6h4l2.4 2.4v4l-2.4 2.4h-4l-2.4-2.4v-4z" stroke="#8a4a6c" stroke-width="4.4" fill="none"/><path d="M856.5 518.6h4l2.4 2.4v4l-2.4 2.4h-4l-2.4-2.4v-4z" stroke="#8a4a6c" stroke-width="4.4" fill="none"/><line x1="869.5" y1="473" x2="869.5" y2="499" stroke="#2f9a3c" stroke-width="4.4"/><path d="M867.2 498.6h4l2.4 2.4v4l-2.4 2.4h-4l-2.4-2.4v-4z" stroke="#8a4a6c" stroke-width="4.4" fill="none"/><path d="M867.2 518.6h4l2.4 2.4v4l-2.4 2.4h-4l-2.4-2.4v-4z" stroke="#8a4a6c" stroke-width="4.4" fill="none"/><line x1="847.5" y1="527" x2="847.5" y2="552" stroke="#2f9a3c" stroke-width="4.4"/><line x1="847.5" y1="552" x2="847.5" y2="563" stroke="#8a4a6c" stroke-width="4.4"/><line x1="858.5" y1="527" x2="858.5" y2="553" stroke="#2f9a3c" stroke-width="4.4"/><line x1="869.5" y1="527" x2="869.5" y2="552" stroke="#2f9a3c" stroke-width="4.4"/><line x1="869.5" y1="552" x2="869.5" y2="563" stroke="#8a4a6c" stroke-width="4.4"/><line x1="837" y1="563" x2="856" y2="563" stroke="#8a4a6c" stroke-width="4.4"/><polyline points="863.9000000000001,553.4 869.2,562 875.1,553.4" stroke="#8a4a6c" stroke-width="4.4" fill="none" stroke-linejoin="round"/><line x1="858.5" y1="516" x2="858.5" y2="520" stroke="#8a4a6c" stroke-width="4.4"/><path d="M845.0 450.5h5M847.5 447.5v6" stroke="#6a88a8" stroke-width="4.4" fill="none"/><path d="M856.0 462.5h5M858.5 459.5v6" stroke="#6a88a8" stroke-width="4.4" fill="none"/><path d="M867.0 473.5h5M869.5 470.5v6" stroke="#6a88a8" stroke-width="4.4" fill="none"/><path d="M856.0 574.5h5M858.5 571.5v6" stroke="#6a88a8" stroke-width="4.4" fill="none"/><line x1="982" y1="228" x2="982" y2="246" stroke="#8a4a6c" stroke-width="4.4"/><line x1="982" y1="237.5" x2="1008" y2="237.5" stroke="#8a4a6c" stroke-width="4.4"/><rect x="1008" y="226" width="16" height="13" stroke="#8a4a6c" stroke-width="4.4" fill="none"/><polyline points="1008.5,226.5 993,213.7 1039.3,213.7 1023.8,226.5" stroke="#8a4a6c" stroke-width="4.4" fill="none"/><line x1="1024" y1="237.5" x2="1050" y2="237.5" stroke="#8a4a6c" stroke-width="4.4"/><polyline points="1050.2,237.4 1051.55,233.5 1054.25,241.3 1056.95,233.5 1059.65,241.3 1062.35,233.5 1065.05,241.3 1067.75,233.5 1070.45,241.3 1071.8,237.4" stroke="#8a4a6c" stroke-width="4.4" fill="none" stroke-linejoin="round"/><line x1="1072" y1="237.5" x2="1084" y2="237.5" stroke="#8a4a6c" stroke-width="4.4"/><line x1="1084" y1="237.5" x2="1096" y2="237.5" stroke="#2f9a3c" stroke-width="4.4"/><path d="M1093.0 237.5h5M1095.5 234.5v6" stroke="#6a88a8" stroke-width="4.4" fill="none"/><line x1="998" y1="231.5" x2="1002" y2="231.5" stroke="#6a88a8" stroke-width="4.4"/><path d="M1027.5 231.5h5M1030 229v5" stroke="#6a88a8" stroke-width="4.4"/><path d="M1013.7 237h5M1016.2 234.5v5" stroke="#8a4a6c" stroke-width="4.4"/><path d="M1003.0 372.5h5M1005.5 369.5v6" stroke="#6a88a8" stroke-width="4.4" fill="none"/><line x1="1005.5" y1="372" x2="1005.5" y2="383" stroke="#2f9a3c" stroke-width="4.4"/><line x1="1005.5" y1="383" x2="1005.5" y2="395" stroke="#8a4a6c" stroke-width="4.4"/><polyline points="1005.5,394.8 1009.4,396.18 1001.6,398.93 1009.4,401.68 1001.6,404.43 1009.4,407.18 1001.6,409.93 1009.4,412.68 1001.6,415.43 1005.5,416.8" stroke="#8a4a6c" stroke-width="4.4" fill="none" stroke-linejoin="round"/><line x1="1005.5" y1="417" x2="1005.5" y2="428" stroke="#8a4a6c" stroke-width="4.4"/><line x1="1006" y1="428.5" x2="1095" y2="428.5" stroke="#2f9a3c" stroke-width="4.4"/><line x1="1006" y1="462.5" x2="1095" y2="462.5" stroke="#2f9a3c" stroke-width="4.4"/><line x1="1005.5" y1="428" x2="1005.5" y2="440" stroke="#8a4a6c" stroke-width="4.4"/><line x1="1005.5" y1="450" x2="1005.5" y2="462" stroke="#8a4a6c" stroke-width="4.4"/><path d="M999.2 439.5h12.6l-6.3 10.7z" stroke="#8a4a6c" stroke-width="4.4" fill="none"/><line x1="999" y1="451" x2="1012" y2="451" stroke="#8a4a6c" stroke-width="4.4"/><path d="M996.5 443.3L991.5 448" stroke="#8a4a6c" stroke-width="4.4" fill="none"/><path d="M989.7 449.8l0.7-4.8l4.1 4.1z" fill="#8a4a6c"/><path d="M996.5 448.8L991.0 453.6" stroke="#8a4a6c" stroke-width="4.4" fill="none"/><path d="M989.2 455.40000000000003l0.7-4.8l4.1 4.1z" fill="#8a4a6c"/><line x1="1050.5" y1="428" x2="1050.5" y2="440" stroke="#8a4a6c" stroke-width="4.4"/><line x1="1050.5" y1="450" x2="1050.5" y2="462" stroke="#8a4a6c" stroke-width="4.4"/><path d="M1044.2 439.5h12.6l-6.3 10.7z" stroke="#8a4a6c" stroke-width="4.4" fill="none"/><line x1="1044" y1="451" x2="1057" y2="451" stroke="#8a4a6c" stroke-width="4.4"/><path d="M1041.5 443.3L1036.5 448" stroke="#8a4a6c" stroke-width="4.4" fill="none"/><path d="M1034.7 449.8l0.7-4.8l4.1 4.1z" fill="#8a4a6c"/><path d="M1041.5 448.8L1036.0 453.6" stroke="#8a4a6c" stroke-width="4.4" fill="none"/><path d="M1034.2 455.40000000000003l0.7-4.8l4.1 4.1z" fill="#8a4a6c"/><line x1="1095.5" y1="428" x2="1095.5" y2="440" stroke="#8a4a6c" stroke-width="4.4"/><line x1="1095.5" y1="450" x2="1095.5" y2="462" stroke="#8a4a6c" stroke-width="4.4"/><path d="M1088.9 439.5h12.6l-6.3 10.7z" stroke="#8a4a6c" stroke-width="4.4" fill="none"/><line x1="1089" y1="451" x2="1102" y2="451" stroke="#8a4a6c" stroke-width="4.4"/><path d="M1086.2 443.3L1081.2 448" stroke="#8a4a6c" stroke-width="4.4" fill="none"/><path d="M1079.4 449.8l0.7-4.8l4.1 4.1z" fill="#8a4a6c"/><path d="M1086.2 448.8L1080.7 453.6" stroke="#8a4a6c" stroke-width="4.4" fill="none"/><path d="M1078.9 455.40000000000003l0.7-4.8l4.1 4.1z" fill="#8a4a6c"/><circle cx="1005.5" cy="428.2" r="2.6" stroke="#2f9a3c" stroke-width="4.4" fill="#2f9a3c"/><circle cx="1005.5" cy="462.1" r="2.6" stroke="#2f9a3c" stroke-width="4.4" fill="#2f9a3c"/><circle cx="1050.5" cy="428.2" r="2.6" stroke="#2f9a3c" stroke-width="4.4" fill="#2f9a3c"/><circle cx="1050.5" cy="462.1" r="2.6" stroke="#2f9a3c" stroke-width="4.4" fill="#2f9a3c"/><line x1="1005.5" y1="462" x2="1005.5" y2="473" stroke="#8a4a6c" stroke-width="4.4"/><line x1="995" y1="473" x2="1014" y2="473" stroke="#8a4a6c" stroke-width="4.4"/><path d="M1206.0 372.5h5M1208.5 369.5v6" stroke="#6a88a8" stroke-width="4.4" fill="none"/><line x1="1208.5" y1="372" x2="1208.5" y2="383" stroke="#2f9a3c" stroke-width="4.4"/><line x1="1208.5" y1="383" x2="1208.5" y2="395" stroke="#8a4a6c" stroke-width="4.4"/><polyline points="1208.2,394.8 1212.1000000000001,396.18 1204.3,398.93 1212.1000000000001,401.68 1204.3,404.43 1212.1000000000001,407.18 1204.3,409.93 1212.1000000000001,412.68 1204.3,415.43 1208.2,416.8" stroke="#8a4a6c" stroke-width="4.4" fill="none" stroke-linejoin="round"/><line x1="1208.5" y1="417" x2="1208.5" y2="428" stroke="#8a4a6c" stroke-width="4.4"/><line x1="1208" y1="428.5" x2="1298" y2="428.5" stroke="#2f9a3c" stroke-width="4.4"/><line x1="1208" y1="462.5" x2="1298" y2="462.5" stroke="#2f9a3c" stroke-width="4.4"/><line x1="1208.5" y1="428" x2="1208.5" y2="440" stroke="#8a4a6c" stroke-width="4.4"/><line x1="1208.5" y1="450" x2="1208.5" y2="462" stroke="#8a4a6c" stroke-width="4.4"/><path d="M1201.9 439.5h12.6l-6.3 10.7z" stroke="#8a4a6c" stroke-width="4.4" fill="none"/><line x1="1202" y1="451" x2="1215" y2="451" stroke="#8a4a6c" stroke-width="4.4"/><path d="M1199.2 443.3L1194.2 448" stroke="#8a4a6c" stroke-width="4.4" fill="none"/><path d="M1192.4 449.8l0.7-4.8l4.1 4.1z" fill="#8a4a6c"/><path d="M1199.2 448.8L1193.7 453.6" stroke="#8a4a6c" stroke-width="4.4" fill="none"/><path d="M1191.9 455.40000000000003l0.7-4.8l4.1 4.1z" fill="#8a4a6c"/><line x1="1253.5" y1="428" x2="1253.5" y2="440" stroke="#8a4a6c" stroke-width="4.4"/><line x1="1253.5" y1="450" x2="1253.5" y2="462" stroke="#8a4a6c" stroke-width="4.4"/><path d="M1246.9 439.5h12.6l-6.3 10.7z" stroke="#8a4a6c" stroke-width="4.4" fill="none"/><line x1="1247" y1="451" x2="1260" y2="451" stroke="#8a4a6c" stroke-width="4.4"/><path d="M1244.2 443.3L1239.2 448" stroke="#8a4a6c" stroke-width="4.4" fill="none"/><path d="M1237.4 449.8l0.7-4.8l4.1 4.1z" fill="#8a4a6c"/><path d="M1244.2 448.8L1238.7 453.6" stroke="#8a4a6c" stroke-width="4.4" fill="none"/><path d="M1236.9 455.40000000000003l0.7-4.8l4.1 4.1z" fill="#8a4a6c"/><line x1="1297.5" y1="428" x2="1297.5" y2="440" stroke="#8a4a6c" stroke-width="4.4"/><line x1="1297.5" y1="450" x2="1297.5" y2="462" stroke="#8a4a6c" stroke-width="4.4"/><path d="M1291.6000000000001 439.5h12.6l-6.3 10.7z" stroke="#8a4a6c" stroke-width="4.4" fill="none"/><line x1="1291" y1="451" x2="1304" y2="451" stroke="#8a4a6c" stroke-width="4.4"/><path d="M1288.9 443.3L1283.9 448" stroke="#8a4a6c" stroke-width="4.4" fill="none"/><path d="M1282.1000000000001 449.8l0.7-4.8l4.1 4.1z" fill="#8a4a6c"/><path d="M1288.9 448.8L1283.4 453.6" stroke="#8a4a6c" stroke-width="4.4" fill="none"/><path d="M1281.6000000000001 455.40000000000003l0.7-4.8l4.1 4.1z" fill="#8a4a6c"/><circle cx="1208.2" cy="428.2" r="2.6" stroke="#2f9a3c" stroke-width="4.4" fill="#2f9a3c"/><circle cx="1208.2" cy="462.1" r="2.6" stroke="#2f9a3c" stroke-width="4.4" fill="#2f9a3c"/><circle cx="1253.2" cy="428.2" r="2.6" stroke="#2f9a3c" stroke-width="4.4" fill="#2f9a3c"/><circle cx="1253.2" cy="462.1" r="2.6" stroke="#2f9a3c" stroke-width="4.4" fill="#2f9a3c"/><line x1="1208.5" y1="462" x2="1208.5" y2="473" stroke="#8a4a6c" stroke-width="4.4"/><line x1="1198" y1="473" x2="1216" y2="473" stroke="#8a4a6c" stroke-width="4.4"/></g>
 <g transform="translate(-16.3 120.1) scale(0.2275)" fill="#6e8aa8"><rect x="404.0" y="290.0" width="56.6" height="12.0"/><rect x="359.0" y="307.0" width="33.2" height="12.0"/><rect x="472.0" y="307.0" width="33.2" height="12.0"/><rect x="415.0" y="362.5" width="21.5" height="12.0"/><rect x="438.7" y="340.5" width="33.2" height="12.0"/><rect x="578.0" y="307.4" width="12.0" height="21.5"/><rect x="534.0" y="295.1" width="15.7" height="12.0"/><rect x="534.0" y="323.5" width="21.5" height="12.0"/><rect x="510.4" y="325.5" width="21.5" height="12.0"/><rect x="675.0" y="306.5" width="21.5" height="12.0"/><rect x="624.2" y="300.0" width="15.7" height="12.0"/><rect x="624.6" y="320.5" width="21.5" height="12.0"/><rect x="601.7" y="325.5" width="21.5" height="12.0"/><rect x="472.0" y="370.5" width="21.5" height="12.0"/><rect x="720.0" y="386.3" width="21.5" height="12.0"/><rect x="720.0" y="408.3" width="33.2" height="12.0"/><rect x="720.0" y="419.1" width="33.2" height="12.0"/><rect x="720.0" y="442.5" width="27.4" height="12.0"/><rect x="720.0" y="453.4" width="21.5" height="12.0"/><rect x="720.0" y="464.5" width="27.4" height="12.0"/><rect x="720.0" y="476.4" width="21.5" height="12.0"/><rect x="720.0" y="487.3" width="15.7" height="12.0"/><rect x="720.0" y="498.4" width="27.4" height="12.0"/><rect x="720.0" y="510.5" width="15.7" height="12.0"/><rect x="720.0" y="521.6" width="15.7" height="12.0"/><rect x="431.3" y="483.5" width="21.5" height="12.0"/><rect x="427.7" y="518.5" width="12.0" height="21.5"/><rect x="472.0" y="542.5" width="74.2" height="12.0"/><rect x="840.0" y="308.5" width="44.9" height="12.0"/><rect x="837.0" y="387.5" width="44.9" height="12.0"/><rect x="800.0" y="315.9" width="12.0" height="21.5"/><rect x="781.0" y="359.2" width="21.5" height="12.0"/><rect x="809.0" y="349.0" width="15.7" height="12.0"/><rect x="809.0" y="360.2" width="15.7" height="12.0"/><rect x="844.5" y="442.0" width="21.5" height="12.0"/><rect x="857.0" y="453.0" width="21.5" height="12.0"/><rect x="867.6" y="464.3" width="27.4" height="12.0"/><rect x="833.0" y="566.0" width="21.5" height="12.0"/><rect x="856.0" y="566.0" width="21.5" height="12.0"/><rect x="879.0" y="549.5" width="12.0" height="21.5"/><rect x="822.0" y="515.5" width="12.0" height="33.2"/><rect x="1093.5" y="227.0" width="15.7" height="12.0"/><rect x="1058.7" y="220.5" width="21.5" height="12.0"/><rect x="1064.0" y="241.8" width="15.7" height="12.0"/><rect x="997.8" y="200.0" width="21.5" height="12.0"/><rect x="997.2" y="241.8" width="33.2" height="12.0"/><rect x="969.2" y="226.1" width="12.0" height="21.5"/><rect x="1001.0" y="362.6" width="27.4" height="12.0"/><rect x="987.5" y="409.3" width="12.0" height="15.7"/><rect x="1009.0" y="402.4" width="12.0" height="21.5"/><rect x="1010.5" y="441.4" width="12.0" height="21.5"/><rect x="1020.0" y="441.4" width="12.0" height="21.5"/><rect x="1055.5" y="435.6" width="12.0" height="27.4"/><rect x="1065.0" y="429.8" width="12.0" height="33.2"/><rect x="1100.2" y="435.6" width="12.0" height="27.4"/><rect x="1109.7" y="435.6" width="12.0" height="27.4"/><rect x="991.0" y="476.0" width="21.5" height="12.0"/><rect x="1203.7" y="362.6" width="27.4" height="12.0"/><rect x="1190.2" y="409.3" width="12.0" height="15.7"/><rect x="1211.7" y="402.4" width="12.0" height="21.5"/><rect x="1213.2" y="435.6" width="12.0" height="27.4"/><rect x="1222.7" y="423.9" width="12.0" height="39.1"/><rect x="1258.2" y="435.6" width="12.0" height="27.4"/><rect x="1267.7" y="429.8" width="12.0" height="33.2"/><rect x="1302.9" y="435.6" width="12.0" height="27.4"/><rect x="1312.4" y="435.6" width="12.0" height="27.4"/><rect x="1193.7" y="476.0" width="21.5" height="12.0"/></g>
</svg>
<div class="a" style="left:171.5px;top:295px;font-size:13px">1</div>
<!-- splitter -->
<div class="a" style="left:308px;top:99px;width:3px;height:598px;background:#f0f0f0"></div>
<!-- canvas area -->
<div class="a" style="left:312px;top:100px;width:123px;height:18px;background:#f0f0f0;border-left:2px solid #8a8a8a;border-top:2px solid #8a8a8a;border-right:1px solid #fff;border-bottom:1px solid #fff"></div>
<div class="a" style="left:316px;top:102.5px;font-family:'Liberation Mono',monospace;font-size:10px;transform:scaleY(1.2);transform-origin:0 0">0.1 inch (5.9 4.8)</div>
<div class="a" style="left:437px;top:100px;width:13px;height:18px;background:#f0f0f0;border-left:2px solid #8a8a8a;border-top:2px solid #8a8a8a"></div>
<div class="a" style="left:451px;top:100px;width:915px;height:19px;background:#fff;border-top:1px solid #aaa;border-bottom:1px solid #d4dbe4"></div>
<div class="a" style="left:456px;top:103px;width:1px;height:11.5px;background:#000"></div>
<svg class="a" style="left:1353px;top:107px" width="10" height="8"><path d="M0.5 1h8.5l-4.25 5z" fill="#000"/></svg>
<div class="a" style="left:312px;top:119px;width:1038px;height:563px;background:#fff"></div>
<!-- scrollbars -->
<div class="a" style="left:1350px;top:119px;width:16px;height:563px;background:linear-gradient(90deg,#e3e3e3 0,#e9e9e9 2px,#ededed 7px,#f1f1f1 13px,#e8e8e8 16px)"></div>
<svg class="a" style="left:1350px;top:119px" width="16" height="563"><path d="M3.5 12h9l-4.5-4.5z" fill="#8c8c8c"/><path d="M3.5 551h9l-4.5 4.5z" fill="#8c8c8c"/></svg>
<div class="a" style="left:312px;top:682px;width:1036px;height:15px;background:linear-gradient(#e3e3e3 0,#e9e9e9 2px,#ededed 7px,#f1f1f1 12px,#e8e8e8 15px)"></div>
<svg class="a" style="left:312px;top:682px" width="1036" height="15"><path d="M10.5 3.5v8l-4-4z" fill="#8c8c8c"/><path d="M1026 3.5v8l4-4z" fill="#8c8c8c"/></svg>
<svg id="sch" class="a" style="left:312px;top:119px" width="1038" height="563" viewBox="312 119 1038 563">
<text x="406" y="299.5" font-size="9.95" text-anchor="start" fill="#5a5a5a" transform="matrix(1 0 0 1.1 0 -29.95)">RESONATOR</text><line x1="362" y1="316.5" x2="396" y2="316.5" stroke="#2ea02e" stroke-width="1.0"/><line x1="396" y1="316.5" x2="406" y2="316.5" stroke="#b03844" stroke-width="1.0"/><path d="M359.0 316.5h5M361.5 313.5v6" stroke="#5a5a5a" stroke-width="1" fill="none"/><text x="361" y="316.5" font-size="9.95" text-anchor="start" fill="#5a5a5a" transform="matrix(1 0 0 1.1 0 -31.65)">XTAL1</text><text x="400" y="314" font-size="7.8" text-anchor="start" fill="#5a5a5a" transform="matrix(1 0 0 1.1 0 -31.40)">1</text><rect x="407" y="304" width="45" height="34" stroke="#b03844" stroke-width="1.6" fill="none"/><line x1="407" y1="316.5" x2="424" y2="316.5" stroke="#b03844" stroke-width="1.0"/><line x1="436" y1="316.5" x2="452" y2="316.5" stroke="#b03844" stroke-width="1.0"/><line x1="424.5" y1="310" x2="424.5" y2="322" stroke="#b03844" stroke-width="1.2"/><line x1="435.5" y1="310" x2="435.5" y2="322" stroke="#b03844" stroke-width="1.2"/><rect x="427.5" y="311.5" width="4" height="10" stroke="#b03844" stroke-width="1" fill="none"/><line x1="429.5" y1="314" x2="429.5" y2="318" stroke="#b03844" stroke-width="1"/><polyline points="412.5,315 412.5,330.5 418.5,330.5" stroke="#b03844" stroke-width="1.0" fill="none"/><line x1="418.5" y1="326" x2="418.5" y2="336" stroke="#b03844" stroke-width="1.2"/><line x1="421.5" y1="326" x2="421.5" y2="336" stroke="#b03844" stroke-width="1.2"/><line x1="421" y1="330.5" x2="438" y2="330.5" stroke="#b03844" stroke-width="1.0"/><line x1="437.5" y1="326" x2="437.5" y2="336" stroke="#b03844" stroke-width="1.2"/><line x1="440.5" y1="326" x2="440.5" y2="336" stroke="#b03844" stroke-width="1.2"/><polyline points="440.5,330.5 446.5,330.5 446.5,315" stroke="#b03844" stroke-width="1.0" fill="none"/><line x1="429.5" y1="329" x2="429.5" y2="361" stroke="#b03844" stroke-width="1.0"/><text x="453.8" y="314" font-size="7.8" text-anchor="start" fill="#5a5a5a" transform="matrix(1 0 0 1.1 0 -31.40)">3</text><line x1="453" y1="316.5" x2="463" y2="316.5" stroke="#b03844" stroke-width="1.0"/><line x1="463" y1="316.5" x2="475" y2="316.5" stroke="#2ea02e" stroke-width="1.0"/><path d="M473.0 316.5h5M475.5 313.5v6" stroke="#5a5a5a" stroke-width="1" fill="none"/><text x="474" y="316.5" font-size="9.95" text-anchor="start" fill="#5a5a5a" transform="matrix(1 0 0 1.1 0 -31.65)">XTAL2</text><line x1="420" y1="361" x2="439" y2="361" stroke="#b03844" stroke-width="2"/><text x="417" y="372" font-size="9.95" text-anchor="start" fill="#5a5a5a" transform="matrix(1 0 0 1.1 0 -37.20)">GND</text><text x="426" y="340.5" font-size="7.8" text-anchor="start" fill="#5a5a5a" transform="rotate(90 426 340.5) matrix(1 0 0 1.1 0 -34.05)">2</text><text x="440.7" y="350" font-size="9.95" text-anchor="start" fill="#5a5a5a" transform="matrix(1 0 0 1.1 0 -35.00)">20MHz</text><polyline points="529.5,309.59999999999997 518.3,316.2 529.5,321.3" stroke="#b03844" stroke-width="2" fill="none" stroke-linejoin="round"/><line x1="517" y1="316.5" x2="545" y2="316.5" stroke="#b03844" stroke-width="1.0"/><line x1="545" y1="308" x2="545" y2="322" stroke="#b03844" stroke-width="2"/><line x1="550" y1="308" x2="550" y2="322" stroke="#b03844" stroke-width="2"/><line x1="553.5" y1="312" x2="553.5" y2="320" stroke="#b03844" stroke-width="1"/><line x1="550" y1="316.5" x2="576" y2="316.5" stroke="#b03844" stroke-width="1.0"/><line x1="576" y1="306" x2="576" y2="324" stroke="#b03844" stroke-width="2"/><text x="587.5" y="327" font-size="9.95" text-anchor="start" fill="#5a5a5a" transform="rotate(-90 587.5 327) matrix(1 0 0 1.1 0 -32.70)">GND</text><text x="536" y="304.6" font-size="9.95" text-anchor="start" fill="#5a5a5a" transform="matrix(1 0 0 1.1 0 -30.46)">C1</text><text x="536" y="333" font-size="9.95" text-anchor="start" fill="#5a5a5a" transform="matrix(1 0 0 1.1 0 -33.30)">1µF</text><text x="512.4" y="335" font-size="9.95" text-anchor="start" fill="#5a5a5a" transform="matrix(1 0 0 1.1 0 -33.50)">VCC</text><polyline points="619.5,309.59999999999997 608.3,316.2 619.5,321.3" stroke="#b03844" stroke-width="2" fill="none" stroke-linejoin="round"/><line x1="607" y1="316.5" x2="632" y2="316.5" stroke="#b03844" stroke-width="1.0"/><polyline points="632.5,316.2 633.92,312.3 636.76,320.09999999999997 639.59,312.3 642.43,320.09999999999997 645.27,312.3 648.11,320.09999999999997 650.94,312.3 653.78,320.09999999999997 655.2,316.2" stroke="#b03844" stroke-width="1.3" fill="none" stroke-linejoin="round"/><line x1="655" y1="316.5" x2="667" y2="316.5" stroke="#b03844" stroke-width="1.0"/><line x1="667" y1="316.5" x2="678" y2="316.5" stroke="#2ea02e" stroke-width="1.0"/><path d="M676.0 316.5h5M678.5 313.5v6" stroke="#5a5a5a" stroke-width="1" fill="none"/><text x="677" y="316" font-size="9.95" text-anchor="start" fill="#5a5a5a" transform="matrix(1 0 0 1.1 0 -31.60)">RST</text><text x="626.2" y="309.5" font-size="9.95" text-anchor="start" fill="#5a5a5a" transform="matrix(1 0 0 1.1 0 -30.95)">R1</text><text x="626.6" y="330" font-size="9.95" text-anchor="start" fill="#5a5a5a" transform="matrix(1 0 0 1.1 0 -33.00)">10k</text><text x="603.7" y="335" font-size="9.95" text-anchor="start" fill="#5a5a5a" transform="matrix(1 0 0 1.1 0 -33.50)">VCC</text><text x="474" y="380" font-size="9.95" text-anchor="start" fill="#5a5a5a" transform="matrix(1 0 0 1.1 0 -38.00)">IC1</text><rect x="474" y="383" width="215" height="158" stroke="#b03844" stroke-width="2" fill="none"/><line x1="689" y1="395.5" x2="712" y2="395.5" stroke="#b03844" stroke-width="1.0"/><text x="677.3" y="397.8" font-size="8.2" text-anchor="end" fill="#5a5a5a" transform="matrix(1 0 0 1.1 0 -39.78)">(PCINT11/RESET/DW)PB3</text><text x="699" y="392.4" font-size="7.8" text-anchor="start" fill="#5a5a5a" transform="matrix(1 0 0 1.1 0 -39.24)">4</text><line x1="712" y1="395.5" x2="724" y2="395.5" stroke="#2ea02e" stroke-width="1.0"/><path d="M722.0 395.5h5M724.5 392.5v6" stroke="#5a5a5a" stroke-width="1" fill="none"/><text x="722" y="395.8" font-size="9.95" text-anchor="start" fill="#5a5a5a" transform="matrix(1 0 0 1.1 0 -39.58)">RST</text><line x1="689" y1="406.5" x2="712" y2="406.5" stroke="#b03844" stroke-width="1.0"/><text x="677.3" y="408.90000000000003" font-size="8.2" text-anchor="end" fill="#5a5a5a" transform="matrix(1 0 0 1.1 0 -40.89)">(PCINT10/INT0/OC0A/CKOUT)PB2</text><text x="699" y="403.5" font-size="7.8" text-anchor="start" fill="#5a5a5a" transform="matrix(1 0 0 1.1 0 -40.35)">5</text><line x1="689" y1="417.5" x2="712" y2="417.5" stroke="#b03844" stroke-width="1.0"/><text x="677.3" y="419.8" font-size="8.2" text-anchor="end" fill="#5a5a5a" transform="matrix(1 0 0 1.1 0 -41.98)">(PCINT9/XTAL2)PB1</text><text x="699" y="414.4" font-size="7.8" text-anchor="start" fill="#5a5a5a" transform="matrix(1 0 0 1.1 0 -41.44)">3</text><line x1="712" y1="417.5" x2="724" y2="417.5" stroke="#2ea02e" stroke-width="1.0"/><path d="M722.0 417.5h5M724.5 414.5v6" stroke="#5a5a5a" stroke-width="1" fill="none"/><text x="722" y="417.8" font-size="9.95" text-anchor="start" fill="#5a5a5a" transform="matrix(1 0 0 1.1 0 -41.78)">XTAL2</text><line x1="689" y1="428.5" x2="712" y2="428.5" stroke="#b03844" stroke-width="1.0"/><text x="677.3" y="430.6" font-size="8.2" text-anchor="end" fill="#5a5a5a" transform="matrix(1 0 0 1.1 0 -43.06)">(PCINT8/XTAL1/CLKI)PB0</text><text x="699" y="425.2" font-size="7.8" text-anchor="start" fill="#5a5a5a" transform="matrix(1 0 0 1.1 0 -42.52)">2</text><line x1="712" y1="428.5" x2="724" y2="428.5" stroke="#2ea02e" stroke-width="1.0"/><path d="M722.0 428.5h5M724.5 425.5v6" stroke="#5a5a5a" stroke-width="1" fill="none"/><text x="722" y="428.6" font-size="9.95" text-anchor="start" fill="#5a5a5a" transform="matrix(1 0 0 1.1 0 -42.86)">XTAL1</text><line x1="689" y1="451.5" x2="712" y2="451.5" stroke="#b03844" stroke-width="1.0"/><text x="677.3" y="454.0" font-size="8.2" text-anchor="end" fill="#5a5a5a" transform="matrix(1 0 0 1.1 0 -45.40)">(PCINT7/ICP/OC0B/ADC7)PA7</text><text x="699" y="448.59999999999997" font-size="7.8" text-anchor="start" fill="#5a5a5a" transform="matrix(1 0 0 1.1 0 -44.86)">6</text><line x1="712" y1="451.5" x2="724" y2="451.5" stroke="#2ea02e" stroke-width="1.0"/><path d="M722.0 451.5h5M724.5 448.5v6" stroke="#5a5a5a" stroke-width="1" fill="none"/><text x="722" y="452.0" font-size="9.95" text-anchor="start" fill="#5a5a5a" transform="matrix(1 0 0 1.1 0 -45.20)">LED1</text><line x1="689" y1="462.5" x2="712" y2="462.5" stroke="#b03844" stroke-width="1.0"/><text x="677.3" y="464.90000000000003" font-size="8.2" text-anchor="end" fill="#5a5a5a" transform="matrix(1 0 0 1.1 0 -46.49)">(PCINT6/OC1A/SDA/MOSI/ADC6)PA6</text><text x="699" y="459.5" font-size="7.8" text-anchor="start" fill="#5a5a5a" transform="matrix(1 0 0 1.1 0 -45.95)">7</text><line x1="712" y1="462.5" x2="724" y2="462.5" stroke="#2ea02e" stroke-width="1.0"/><path d="M722.0 462.5h5M724.5 459.5v6" stroke="#5a5a5a" stroke-width="1" fill="none"/><text x="722" y="462.90000000000003" font-size="9.95" text-anchor="start" fill="#5a5a5a" transform="matrix(1 0 0 1.1 0 -46.29)">MOS</text><line x1="689" y1="473.5" x2="712" y2="473.5" stroke="#b03844" stroke-width="1.0"/><text x="677.3" y="476.0" font-size="8.2" text-anchor="end" fill="#5a5a5a" transform="matrix(1 0 0 1.1 0 -47.60)">(PCINT5/OC1B/MISO/DO/ADC5)PA5</text><text x="699" y="470.59999999999997" font-size="7.8" text-anchor="start" fill="#5a5a5a" transform="matrix(1 0 0 1.1 0 -47.06)">8</text><line x1="712" y1="473.5" x2="724" y2="473.5" stroke="#2ea02e" stroke-width="1.0"/><path d="M722.0 473.5h5M724.5 470.5v6" stroke="#5a5a5a" stroke-width="1" fill="none"/><text x="722" y="474.0" font-size="9.95" text-anchor="start" fill="#5a5a5a" transform="matrix(1 0 0 1.1 0 -47.40)">MISO</text><line x1="689" y1="485.5" x2="712" y2="485.5" stroke="#b03844" stroke-width="1.0"/><text x="677.3" y="487.90000000000003" font-size="8.2" text-anchor="end" fill="#5a5a5a" transform="matrix(1 0 0 1.1 0 -48.79)">(PCINT4/T1/SCL/USCK/ADC4)PA4</text><text x="699" y="482.5" font-size="7.8" text-anchor="start" fill="#5a5a5a" transform="matrix(1 0 0 1.1 0 -48.25)">9</text><line x1="712" y1="485.5" x2="724" y2="485.5" stroke="#2ea02e" stroke-width="1.0"/><path d="M722.0 485.5h5M724.5 482.5v6" stroke="#5a5a5a" stroke-width="1" fill="none"/><text x="722" y="485.90000000000003" font-size="9.95" text-anchor="start" fill="#5a5a5a" transform="matrix(1 0 0 1.1 0 -48.59)">SCK</text><line x1="689" y1="496.5" x2="712" y2="496.5" stroke="#b03844" stroke-width="1.0"/><text x="677.3" y="498.8" font-size="8.2" text-anchor="end" fill="#5a5a5a" transform="matrix(1 0 0 1.1 0 -49.88)">(PCINT3/T0/ADC3)PA3</text><text x="699" y="493.4" font-size="7.8" text-anchor="start" fill="#5a5a5a" transform="matrix(1 0 0 1.1 0 -49.34)">10</text><line x1="712" y1="496.5" x2="724" y2="496.5" stroke="#2ea02e" stroke-width="1.0"/><path d="M722.0 496.5h5M724.5 493.5v6" stroke="#5a5a5a" stroke-width="1" fill="none"/><text x="722" y="496.8" font-size="9.95" text-anchor="start" fill="#5a5a5a" transform="matrix(1 0 0 1.1 0 -49.68)">SP</text><line x1="689" y1="507.5" x2="712" y2="507.5" stroke="#b03844" stroke-width="1.0"/><text x="677.3" y="509.90000000000003" font-size="8.2" text-anchor="end" fill="#5a5a5a" transform="matrix(1 0 0 1.1 0 -50.99)">(PCINT2/AIN1/ADC2)PA2</text><text x="699" y="504.5" font-size="7.8" text-anchor="start" fill="#5a5a5a" transform="matrix(1 0 0 1.1 0 -50.45)">11</text><line x1="712" y1="507.5" x2="724" y2="507.5" stroke="#2ea02e" stroke-width="1.0"/><path d="M722.0 507.5h5M724.5 504.5v6" stroke="#5a5a5a" stroke-width="1" fill="none"/><text x="722" y="507.90000000000003" font-size="9.95" text-anchor="start" fill="#5a5a5a" transform="matrix(1 0 0 1.1 0 -50.79)">LED2</text><line x1="689" y1="519.5" x2="712" y2="519.5" stroke="#b03844" stroke-width="1.0"/><text x="677.3" y="522.0" font-size="8.2" text-anchor="end" fill="#5a5a5a" transform="matrix(1 0 0 1.1 0 -52.20)">(PCINT1/AIN0/ADC1)PA1</text><text x="699" y="516.6" font-size="7.8" text-anchor="start" fill="#5a5a5a" transform="matrix(1 0 0 1.1 0 -51.66)">12</text><line x1="712" y1="519.5" x2="724" y2="519.5" stroke="#2ea02e" stroke-width="1.0"/><path d="M722.0 519.5h5M724.5 516.5v6" stroke="#5a5a5a" stroke-width="1" fill="none"/><text x="722" y="520.0" font-size="9.95" text-anchor="start" fill="#5a5a5a" transform="matrix(1 0 0 1.1 0 -52.00)">RX</text><line x1="689" y1="530.5" x2="712" y2="530.5" stroke="#b03844" stroke-width="1.0"/><text x="677.3" y="533.1" font-size="8.2" text-anchor="end" fill="#5a5a5a" transform="matrix(1 0 0 1.1 0 -53.31)">(PCINT0/AREF/ADC0)PA0</text><text x="699" y="527.7" font-size="7.8" text-anchor="start" fill="#5a5a5a" transform="matrix(1 0 0 1.1 0 -52.77)">13</text><line x1="712" y1="530.5" x2="724" y2="530.5" stroke="#2ea02e" stroke-width="1.0"/><path d="M722.0 530.5h5M724.5 527.5v6" stroke="#5a5a5a" stroke-width="1" fill="none"/><text x="722" y="531.1" font-size="9.95" text-anchor="start" fill="#5a5a5a" transform="matrix(1 0 0 1.1 0 -53.11)">TX</text><line x1="438" y1="473.5" x2="474" y2="473.5" stroke="#b03844" stroke-width="1.0"/><polyline points="450.3,466.79999999999995 439.1,473.4 450.3,478.5" stroke="#b03844" stroke-width="2" fill="none" stroke-linejoin="round"/><text x="458" y="470.8" font-size="7.8" text-anchor="start" fill="#5a5a5a" transform="matrix(1 0 0 1.1 0 -47.08)">1</text><text x="433.3" y="493" font-size="9.95" text-anchor="start" fill="#5a5a5a" transform="matrix(1 0 0 1.1 0 -49.30)">VCC</text><path d="M483 462.6h6M486 459.6v6" stroke="#b03844" stroke-width="1.2"/><text x="484.5" y="476.2" font-size="8.2" text-anchor="start" fill="#5a5a5a" transform="matrix(1 0 0 1.1 0 -47.62)">VCC</text><line x1="440" y1="530.5" x2="474" y2="530.5" stroke="#b03844" stroke-width="1.0"/><line x1="440" y1="520" x2="440" y2="538" stroke="#b03844" stroke-width="2"/><text x="454" y="527.5" font-size="7.8" text-anchor="start" fill="#5a5a5a" transform="matrix(1 0 0 1.1 0 -52.75)">14</text><text x="437.2" y="538" font-size="9.95" text-anchor="start" fill="#5a5a5a" transform="rotate(-90 437.2 538) matrix(1 0 0 1.1 0 -53.80)">GND</text><text x="484" y="533" font-size="8.2" text-anchor="start" fill="#5a5a5a" transform="matrix(1 0 0 1.1 0 -53.30)">GND</text><text x="474" y="552" font-size="9.95" text-anchor="start" fill="#5a5a5a" transform="matrix(1 0 0 1.1 0 -55.20)">ATTINY44-SSU</text><rect x="835" y="308" width="46" height="92" stroke="#b03844" stroke-width="2" fill="none"/><line x1="824" y1="327.5" x2="848" y2="327.5" stroke="#b03844" stroke-width="1.0"/><text x="857" y="330.2" font-size="8.2" text-anchor="start" fill="#5a5a5a" transform="matrix(1 0 0 1.1 0 -33.02)">GND</text><text x="830.5" y="325.0" font-size="7.8" text-anchor="start" fill="#5a5a5a" transform="matrix(1 0 0 1.1 0 -32.50)">1</text><line x1="824" y1="338.5" x2="848" y2="338.5" stroke="#b03844" stroke-width="1.0"/><text x="857" y="341.4" font-size="8.2" text-anchor="start" fill="#5a5a5a" transform="matrix(1 0 0 1.1 0 -34.14)">CTS</text><text x="830.5" y="336.2" font-size="7.8" text-anchor="start" fill="#5a5a5a" transform="matrix(1 0 0 1.1 0 -33.62)">2</text><line x1="824" y1="349.5" x2="848" y2="349.5" stroke="#b03844" stroke-width="1.0"/><text x="857" y="352.6" font-size="8.2" text-anchor="start" fill="#5a5a5a" transform="matrix(1 0 0 1.1 0 -35.26)">VCC</text><text x="830.5" y="347.40000000000003" font-size="7.8" text-anchor="start" fill="#5a5a5a" transform="matrix(1 0 0 1.1 0 -34.74)">3</text><line x1="824" y1="360.5" x2="848" y2="360.5" stroke="#b03844" stroke-width="1.0"/><text x="857" y="363.8" font-size="8.2" text-anchor="start" fill="#5a5a5a" transform="matrix(1 0 0 1.1 0 -36.38)">TXD</text><text x="830.5" y="358.6" font-size="7.8" text-anchor="start" fill="#5a5a5a" transform="matrix(1 0 0 1.1 0 -35.86)">4</text><line x1="824" y1="372.5" x2="848" y2="372.5" stroke="#b03844" stroke-width="1.0"/><text x="857" y="375.0" font-size="8.2" text-anchor="start" fill="#5a5a5a" transform="matrix(1 0 0 1.1 0 -37.50)">RXD</text><text x="830.5" y="369.8" font-size="7.8" text-anchor="start" fill="#5a5a5a" transform="matrix(1 0 0 1.1 0 -36.98)">5</text><line x1="824" y1="383.5" x2="848" y2="383.5" stroke="#b03844" stroke-width="1.0"/><text x="857" y="386.2" font-size="8.2" text-anchor="start" fill="#5a5a5a" transform="matrix(1 0 0 1.1 0 -38.62)">RTS</text><text x="830.5" y="381.0" font-size="7.8" text-anchor="start" fill="#5a5a5a" transform="matrix(1 0 0 1.1 0 -38.10)">6</text><text x="842" y="318" font-size="9.95" text-anchor="start" fill="#5a5a5a" transform="matrix(1 0 0 1.1 0 -31.80)">(Black)</text><text x="839" y="397" font-size="9.95" text-anchor="start" fill="#5a5a5a" transform="matrix(1 0 0 1.1 0 -39.70)">(Green)</text><line x1="812" y1="327.5" x2="824" y2="327.5" stroke="#b03844" stroke-width="1.0"/><line x1="812" y1="318" x2="812" y2="336" stroke="#b03844" stroke-width="2"/><text x="809.5" y="335.5" font-size="9.95" text-anchor="start" fill="#5a5a5a" transform="rotate(-90 809.5 335.5) matrix(1 0 0 1.1 0 -33.55)">GND</text><polyline points="801.2,343.0 790,349.6 801.2,354.70000000000005" stroke="#b03844" stroke-width="2" fill="none" stroke-linejoin="round"/><line x1="789" y1="349.5" x2="800" y2="349.5" stroke="#b03844" stroke-width="1"/><line x1="800" y1="349.5" x2="824" y2="349.5" stroke="#2ea02e" stroke-width="1.0"/><text x="783" y="368.7" font-size="9.95" text-anchor="start" fill="#5a5a5a" transform="matrix(1 0 0 1.1 0 -36.87)">VCC</text><line x1="812" y1="360.5" x2="824" y2="360.5" stroke="#2ea02e" stroke-width="1.0"/><path d="M809.0 360.5h5M811.5 357.5v6" stroke="#5a5a5a" stroke-width="1" fill="none"/><text x="811" y="358.5" font-size="9.95" text-anchor="start" fill="#5a5a5a" transform="matrix(1 0 0 1.1 0 -35.85)">TX</text><line x1="812" y1="372.5" x2="824" y2="372.5" stroke="#2ea02e" stroke-width="1.0"/><path d="M809.0 372.5h5M811.5 369.5v6" stroke="#5a5a5a" stroke-width="1" fill="none"/><text x="811" y="369.7" font-size="9.95" text-anchor="start" fill="#5a5a5a" transform="matrix(1 0 0 1.1 0 -36.97)">RX</text><line x1="823.5" y1="380" x2="823.5" y2="387" stroke="#b03844" stroke-width="1"/><rect x="835" y="478" width="47" height="69" stroke="#b03844" stroke-width="2" fill="none"/><line x1="847.5" y1="473" x2="847.5" y2="499" stroke="#2ea02e" stroke-width="1.0"/><path d="M845.5 498.6h4l2.4 2.4v4l-2.4 2.4h-4l-2.4-2.4v-4z" stroke="#b03844" stroke-width="1.1" fill="none"/><path d="M845.5 518.6h4l2.4 2.4v4l-2.4 2.4h-4l-2.4-2.4v-4z" stroke="#b03844" stroke-width="1.1" fill="none"/><text x="845.0" y="496" font-size="7.8" text-anchor="start" fill="#5a5a5a" transform="rotate(-90 845.0 496) matrix(1 0 0 1.1 0 -49.60)">2</text><text x="845.0" y="534" font-size="7.8" text-anchor="start" fill="#5a5a5a" transform="rotate(-90 845.0 534) matrix(1 0 0 1.1 0 -53.40)">1</text><line x1="858.5" y1="473" x2="858.5" y2="499" stroke="#2ea02e" stroke-width="1.0"/><path d="M856.5 498.6h4l2.4 2.4v4l-2.4 2.4h-4l-2.4-2.4v-4z" stroke="#b03844" stroke-width="1.1" fill="none"/><path d="M856.5 518.6h4l2.4 2.4v4l-2.4 2.4h-4l-2.4-2.4v-4z" stroke="#b03844" stroke-width="1.1" fill="none"/><text x="856.0" y="496" font-size="7.8" text-anchor="start" fill="#5a5a5a" transform="rotate(-90 856.0 496) matrix(1 0 0 1.1 0 -49.60)">4</text><text x="856.0" y="534" font-size="7.8" text-anchor="start" fill="#5a5a5a" transform="rotate(-90 856.0 534) matrix(1 0 0 1.1 0 -53.40)">3</text><line x1="869.5" y1="473" x2="869.5" y2="499" stroke="#2ea02e" stroke-width="1.0"/><path d="M867.2 498.6h4l2.4 2.4v4l-2.4 2.4h-4l-2.4-2.4v-4z" stroke="#b03844" stroke-width="1.1" fill="none"/><path d="M867.2 518.6h4l2.4 2.4v4l-2.4 2.4h-4l-2.4-2.4v-4z" stroke="#b03844" stroke-width="1.1" fill="none"/><text x="866.7" y="496" font-size="7.8" text-anchor="start" fill="#5a5a5a" transform="rotate(-90 866.7 496) matrix(1 0 0 1.1 0 -49.60)">6</text><text x="866.7" y="534" font-size="7.8" text-anchor="start" fill="#5a5a5a" transform="rotate(-90 866.7 534) matrix(1 0 0 1.1 0 -53.40)">5</text><line x1="847.5" y1="527" x2="847.5" y2="552" stroke="#2ea02e" stroke-width="1.0"/><line x1="847.5" y1="552" x2="847.5" y2="563" stroke="#b03844" stroke-width="1.0"/><line x1="858.5" y1="527" x2="858.5" y2="553" stroke="#2ea02e" stroke-width="1.0"/><line x1="869.5" y1="527" x2="869.5" y2="552" stroke="#2ea02e" stroke-width="1.0"/><line x1="869.5" y1="552" x2="869.5" y2="563" stroke="#b03844" stroke-width="1.0"/><line x1="837" y1="563" x2="856" y2="563" stroke="#b03844" stroke-width="2"/><polyline points="863.9000000000001,553.4 869.2,562 875.1,553.4" stroke="#b03844" stroke-width="2" fill="none" stroke-linejoin="round"/><line x1="858.5" y1="516" x2="858.5" y2="520" stroke="#b03844" stroke-width="1"/><path d="M845.0 450.5h5M847.5 447.5v6" stroke="#5a5a5a" stroke-width="1" fill="none"/><text x="846.5" y="451.5" font-size="9.95" text-anchor="start" fill="#5a5a5a" transform="matrix(1 0 0 1.1 0 -45.15)">RST</text><path d="M856.0 462.5h5M858.5 459.5v6" stroke="#5a5a5a" stroke-width="1" fill="none"/><text x="859" y="462.5" font-size="9.95" text-anchor="start" fill="#5a5a5a" transform="matrix(1 0 0 1.1 0 -46.25)">SCK</text><path d="M867.0 473.5h5M869.5 470.5v6" stroke="#5a5a5a" stroke-width="1" fill="none"/><text x="869.6" y="473.8" font-size="9.95" text-anchor="start" fill="#5a5a5a" transform="matrix(1 0 0 1.1 0 -47.38)">MISO</text><text x="835" y="575.5" font-size="9.95" text-anchor="start" fill="#5a5a5a" transform="matrix(1 0 0 1.1 0 -57.55)">GND</text><path d="M856.0 574.5h5M858.5 571.5v6" stroke="#5a5a5a" stroke-width="1" fill="none"/><text x="858" y="575.5" font-size="9.95" text-anchor="start" fill="#5a5a5a" transform="matrix(1 0 0 1.1 0 -57.55)">MOS</text><text x="888.5" y="569" font-size="9.95" text-anchor="start" fill="#5a5a5a" transform="rotate(-90 888.5 569) matrix(1 0 0 1.1 0 -56.90)">VCC</text><text x="831.5" y="546.7" font-size="9.95" text-anchor="start" fill="#5a5a5a" transform="rotate(-90 831.5 546.7) matrix(1 0 0 1.1 0 -54.67)">PINHD</text><line x1="982" y1="228" x2="982" y2="246" stroke="#b03844" stroke-width="2"/><line x1="982" y1="237.5" x2="1008" y2="237.5" stroke="#b03844" stroke-width="1.0"/><rect x="1008" y="226" width="16" height="13" stroke="#b03844" stroke-width="2" fill="none"/><polyline points="1008.5,226.5 993,213.7 1039.3,213.7 1023.8,226.5" stroke="#b03844" stroke-width="2" fill="none"/><line x1="1024" y1="237.5" x2="1050" y2="237.5" stroke="#b03844" stroke-width="1.0"/><polyline points="1050.2,237.4 1051.55,233.5 1054.25,241.3 1056.95,233.5 1059.65,241.3 1062.35,233.5 1065.05,241.3 1067.75,233.5 1070.45,241.3 1071.8,237.4" stroke="#b03844" stroke-width="1.3" fill="none" stroke-linejoin="round"/><line x1="1072" y1="237.5" x2="1084" y2="237.5" stroke="#b03844" stroke-width="1.0"/><line x1="1084" y1="237.5" x2="1096" y2="237.5" stroke="#2ea02e" stroke-width="1.0"/><path d="M1093.0 237.5h5M1095.5 234.5v6" stroke="#5a5a5a" stroke-width="1" fill="none"/><text x="1095.5" y="236.5" font-size="9.95" text-anchor="start" fill="#5a5a5a" transform="matrix(1 0 0 1.1 0 -23.65)">SP</text><text x="1060.7" y="230" font-size="9.95" text-anchor="start" fill="#5a5a5a" transform="matrix(1 0 0 1.1 0 -23.00)">100</text><text x="1066" y="251.3" font-size="9.95" text-anchor="start" fill="#5a5a5a" transform="matrix(1 0 0 1.1 0 -25.13)">R4</text><text x="999.8" y="209.5" font-size="9.95" text-anchor="start" fill="#5a5a5a" transform="matrix(1 0 0 1.1 0 -20.95)">SP1</text><text x="999.2" y="251.3" font-size="9.95" text-anchor="start" fill="#5a5a5a" transform="matrix(1 0 0 1.1 0 -25.13)">AL11P</text><line x1="998" y1="231.5" x2="1002" y2="231.5" stroke="#5a5a5a" stroke-width="1"/><path d="M1027.5 231.5h5M1030 229v5" stroke="#5a5a5a" stroke-width="1"/><path d="M1013.7 237h5M1016.2 234.5v5" stroke="#b03844" stroke-width="1"/><text x="978.7" y="245.6" font-size="9.95" text-anchor="start" fill="#5a5a5a" transform="rotate(-90 978.7 245.6) matrix(1 0 0 1.1 0 -24.56)">GND</text><text x="1003.0" y="372.1" font-size="9.95" text-anchor="start" fill="#5a5a5a" transform="matrix(1 0 0 1.1 0 -37.21)">LED1</text><path d="M1003.0 372.5h5M1005.5 369.5v6" stroke="#5a5a5a" stroke-width="1" fill="none"/><line x1="1005.5" y1="372" x2="1005.5" y2="383" stroke="#2ea02e" stroke-width="1.0"/><line x1="1005.5" y1="383" x2="1005.5" y2="395" stroke="#b03844" stroke-width="1.0"/><polyline points="1005.5,394.8 1009.4,396.18 1001.6,398.93 1009.4,401.68 1001.6,404.43 1009.4,407.18 1001.6,409.93 1009.4,412.68 1001.6,415.43 1005.5,416.8" stroke="#b03844" stroke-width="1.3" fill="none" stroke-linejoin="round"/><line x1="1005.5" y1="417" x2="1005.5" y2="428" stroke="#b03844" stroke-width="1.0"/><text x="997.0" y="423" font-size="9.95" text-anchor="start" fill="#5a5a5a" transform="rotate(-90 997.0 423) matrix(1 0 0 1.1 0 -42.30)">R2</text><text x="1018.5" y="422" font-size="9.95" text-anchor="start" fill="#5a5a5a" transform="rotate(-90 1018.5 422) matrix(1 0 0 1.1 0 -42.20)">500</text><line x1="1006" y1="428.5" x2="1095" y2="428.5" stroke="#2ea02e" stroke-width="1.0"/><line x1="1006" y1="462.5" x2="1095" y2="462.5" stroke="#2ea02e" stroke-width="1.0"/><line x1="1005.5" y1="428" x2="1005.5" y2="440" stroke="#b03844" stroke-width="1.0"/><line x1="1005.5" y1="450" x2="1005.5" y2="462" stroke="#b03844" stroke-width="1.0"/><path d="M999.2 439.5h12.6l-6.3 10.7z" stroke="#b03844" stroke-width="2" fill="none"/><line x1="999" y1="451" x2="1012" y2="451" stroke="#b03844" stroke-width="2"/><path d="M996.5 443.3L991.5 448" stroke="#b03844" stroke-width="1.6" fill="none"/><path d="M989.7 449.8l0.7-4.8l4.1 4.1z" fill="#b03844"/><path d="M996.5 448.8L991.0 453.6" stroke="#b03844" stroke-width="1.6" fill="none"/><path d="M989.2 455.40000000000003l0.7-4.8l4.1 4.1z" fill="#b03844"/><text x="1020.0" y="461" font-size="9.95" text-anchor="start" fill="#5a5a5a" transform="rotate(-90 1020.0 461) matrix(1 0 0 1.1 0 -46.10)">LED</text><text x="1029.5" y="461" font-size="9.95" text-anchor="start" fill="#5a5a5a" transform="rotate(-90 1029.5 461) matrix(1 0 0 1.1 0 -46.10)">RED</text><line x1="1050.5" y1="428" x2="1050.5" y2="440" stroke="#b03844" stroke-width="1.0"/><line x1="1050.5" y1="450" x2="1050.5" y2="462" stroke="#b03844" stroke-width="1.0"/><path d="M1044.2 439.5h12.6l-6.3 10.7z" stroke="#b03844" stroke-width="2" fill="none"/><line x1="1044" y1="451" x2="1057" y2="451" stroke="#b03844" stroke-width="2"/><path d="M1041.5 443.3L1036.5 448" stroke="#b03844" stroke-width="1.6" fill="none"/><path d="M1034.7 449.8l0.7-4.8l4.1 4.1z" fill="#b03844"/><path d="M1041.5 448.8L1036.0 453.6" stroke="#b03844" stroke-width="1.6" fill="none"/><path d="M1034.2 455.40000000000003l0.7-4.8l4.1 4.1z" fill="#b03844"/><text x="1065.0" y="461" font-size="9.95" text-anchor="start" fill="#5a5a5a" transform="rotate(-90 1065.0 461) matrix(1 0 0 1.1 0 -46.10)">LED1</text><text x="1074.5" y="461" font-size="9.95" text-anchor="start" fill="#5a5a5a" transform="rotate(-90 1074.5 461) matrix(1 0 0 1.1 0 -46.10)">GREEN</text><line x1="1095.5" y1="428" x2="1095.5" y2="440" stroke="#b03844" stroke-width="1.0"/><line x1="1095.5" y1="450" x2="1095.5" y2="462" stroke="#b03844" stroke-width="1.0"/><path d="M1088.9 439.5h12.6l-6.3 10.7z" stroke="#b03844" stroke-width="2" fill="none"/><line x1="1089" y1="451" x2="1102" y2="451" stroke="#b03844" stroke-width="2"/><path d="M1086.2 443.3L1081.2 448" stroke="#b03844" stroke-width="1.6" fill="none"/><path d="M1079.4 449.8l0.7-4.8l4.1 4.1z" fill="#b03844"/><path d="M1086.2 448.8L1080.7 453.6" stroke="#b03844" stroke-width="1.6" fill="none"/><path d="M1078.9 455.40000000000003l0.7-4.8l4.1 4.1z" fill="#b03844"/><text x="1109.7" y="461" font-size="9.95" text-anchor="start" fill="#5a5a5a" transform="rotate(-90 1109.7 461) matrix(1 0 0 1.1 0 -46.10)">LED2</text><text x="1119.2" y="461" font-size="9.95" text-anchor="start" fill="#5a5a5a" transform="rotate(-90 1119.2 461) matrix(1 0 0 1.1 0 -46.10)">BLUE</text><circle cx="1005.5" cy="428.2" r="2.6" stroke="#2ea02e" stroke-width="0" fill="#2ea02e"/><circle cx="1005.5" cy="462.1" r="2.6" stroke="#2ea02e" stroke-width="0" fill="#2ea02e"/><circle cx="1050.5" cy="428.2" r="2.6" stroke="#2ea02e" stroke-width="0" fill="#2ea02e"/><circle cx="1050.5" cy="462.1" r="2.6" stroke="#2ea02e" stroke-width="0" fill="#2ea02e"/><line x1="1005.5" y1="462" x2="1005.5" y2="473" stroke="#b03844" stroke-width="1.0"/><line x1="995" y1="473" x2="1014" y2="473" stroke="#b03844" stroke-width="2"/><text x="993.0" y="485.5" font-size="9.95" text-anchor="start" fill="#5a5a5a" transform="matrix(1 0 0 1.1 0 -48.55)">GND</text><text x="1205.7" y="372.1" font-size="9.95" text-anchor="start" fill="#5a5a5a" transform="matrix(1 0 0 1.1 0 -37.21)">LED2</text><path d="M1206.0 372.5h5M1208.5 369.5v6" stroke="#5a5a5a" stroke-width="1" fill="none"/><line x1="1208.5" y1="372" x2="1208.5" y2="383" stroke="#2ea02e" stroke-width="1.0"/><line x1="1208.5" y1="383" x2="1208.5" y2="395" stroke="#b03844" stroke-width="1.0"/><polyline points="1208.2,394.8 1212.1000000000001,396.18 1204.3,398.93 1212.1000000000001,401.68 1204.3,404.43 1212.1000000000001,407.18 1204.3,409.93 1212.1000000000001,412.68 1204.3,415.43 1208.2,416.8" stroke="#b03844" stroke-width="1.3" fill="none" stroke-linejoin="round"/><line x1="1208.5" y1="417" x2="1208.5" y2="428" stroke="#b03844" stroke-width="1.0"/><text x="1199.7" y="423" font-size="9.95" text-anchor="start" fill="#5a5a5a" transform="rotate(-90 1199.7 423) matrix(1 0 0 1.1 0 -42.30)">R3</text><text x="1221.2" y="422" font-size="9.95" text-anchor="start" fill="#5a5a5a" transform="rotate(-90 1221.2 422) matrix(1 0 0 1.1 0 -42.20)">500</text><line x1="1208" y1="428.5" x2="1298" y2="428.5" stroke="#2ea02e" stroke-width="1.0"/><line x1="1208" y1="462.5" x2="1298" y2="462.5" stroke="#2ea02e" stroke-width="1.0"/><line x1="1208.5" y1="428" x2="1208.5" y2="440" stroke="#b03844" stroke-width="1.0"/><line x1="1208.5" y1="450" x2="1208.5" y2="462" stroke="#b03844" stroke-width="1.0"/><path d="M1201.9 439.5h12.6l-6.3 10.7z" stroke="#b03844" stroke-width="2" fill="none"/><line x1="1202" y1="451" x2="1215" y2="451" stroke="#b03844" stroke-width="2"/><path d="M1199.2 443.3L1194.2 448" stroke="#b03844" stroke-width="1.6" fill="none"/><path d="M1192.4 449.8l0.7-4.8l4.1 4.1z" fill="#b03844"/><path d="M1199.2 448.8L1193.7 453.6" stroke="#b03844" stroke-width="1.6" fill="none"/><path d="M1191.9 455.40000000000003l0.7-4.8l4.1 4.1z" fill="#b03844"/><text x="1222.7" y="461" font-size="9.95" text-anchor="start" fill="#5a5a5a" transform="rotate(-90 1222.7 461) matrix(1 0 0 1.1 0 -46.10)">LED3</text><text x="1232.2" y="461" font-size="9.95" text-anchor="start" fill="#5a5a5a" transform="rotate(-90 1232.2 461) matrix(1 0 0 1.1 0 -46.10)">GREEN2</text><line x1="1253.5" y1="428" x2="1253.5" y2="440" stroke="#b03844" stroke-width="1.0"/><line x1="1253.5" y1="450" x2="1253.5" y2="462" stroke="#b03844" stroke-width="1.0"/><path d="M1246.9 439.5h12.6l-6.3 10.7z" stroke="#b03844" stroke-width="2" fill="none"/><line x1="1247" y1="451" x2="1260" y2="451" stroke="#b03844" stroke-width="2"/><path d="M1244.2 443.3L1239.2 448" stroke="#b03844" stroke-width="1.6" fill="none"/><path d="M1237.4 449.8l0.7-4.8l4.1 4.1z" fill="#b03844"/><path d="M1244.2 448.8L1238.7 453.6" stroke="#b03844" stroke-width="1.6" fill="none"/><path d="M1236.9 455.40000000000003l0.7-4.8l4.1 4.1z" fill="#b03844"/><text x="1267.7" y="461" font-size="9.95" text-anchor="start" fill="#5a5a5a" transform="rotate(-90 1267.7 461) matrix(1 0 0 1.1 0 -46.10)">LED4</text><text x="1277.2" y="461" font-size="9.95" text-anchor="start" fill="#5a5a5a" transform="rotate(-90 1277.2 461) matrix(1 0 0 1.1 0 -46.10)">BLUE2</text><line x1="1297.5" y1="428" x2="1297.5" y2="440" stroke="#b03844" stroke-width="1.0"/><line x1="1297.5" y1="450" x2="1297.5" y2="462" stroke="#b03844" stroke-width="1.0"/><path d="M1291.6000000000001 439.5h12.6l-6.3 10.7z" stroke="#b03844" stroke-width="2" fill="none"/><line x1="1291" y1="451" x2="1304" y2="451" stroke="#b03844" stroke-width="2"/><path d="M1288.9 443.3L1283.9 448" stroke="#b03844" stroke-width="1.6" fill="none"/><path d="M1282.1000000000001 449.8l0.7-4.8l4.1 4.1z" fill="#b03844"/><path d="M1288.9 448.8L1283.4 453.6" stroke="#b03844" stroke-width="1.6" fill="none"/><path d="M1281.6000000000001 455.40000000000003l0.7-4.8l4.1 4.1z" fill="#b03844"/><text x="1312.4" y="461" font-size="9.95" text-anchor="start" fill="#5a5a5a" transform="rotate(-90 1312.4 461) matrix(1 0 0 1.1 0 -46.10)">LED5</text><text x="1321.9" y="461" font-size="9.95" text-anchor="start" fill="#5a5a5a" transform="rotate(-90 1321.9 461) matrix(1 0 0 1.1 0 -46.10)">RED2</text><circle cx="1208.2" cy="428.2" r="2.6" stroke="#2ea02e" stroke-width="0" fill="#2ea02e"/><circle cx="1208.2" cy="462.1" r="2.6" stroke="#2ea02e" stroke-width="0" fill="#2ea02e"/><circle cx="1253.2" cy="428.2" r="2.6" stroke="#2ea02e" stroke-width="0" fill="#2ea02e"/><circle cx="1253.2" cy="462.1" r="2.6" stroke="#2ea02e" stroke-width="0" fill="#2ea02e"/><line x1="1208.5" y1="462" x2="1208.5" y2="473" stroke="#b03844" stroke-width="1.0"/><line x1="1198" y1="473" x2="1216" y2="473" stroke="#b03844" stroke-width="2"/><text x="1195.7" y="485.5" font-size="9.95" text-anchor="start" fill="#5a5a5a" transform="matrix(1 0 0 1.1 0 -48.55)">GND</text>
<rect x="312" y="665" width="1.3" height="1.3" fill="#111"/><rect x="314.2" y="665" width="1.3" height="1.3" fill="#111"/>
</svg>
<!-- status bar -->
<div class="a" style="left:2.9px;top:706px;font-size:13.3px;white-space:nowrap">'C:\Users\Administrator\Desktop\FABA wk09\eltronicd2.sch'</div>
<div class="a" style="left:354px;top:707px;font-size:12px;white-space:nowrap">已保存。</div>
<div class="a" style="left:409px;top:708px;font-size:12px;white-space:nowrap">♦</div>
<div class="a" style="left:419px;top:707px;font-size:12px;white-space:nowrap">单击左键并拖拽</div>
<div class="a" style="left:502.5px;top:706px;font-size:13.3px;white-space:nowrap">(&amp;d)</div>
<div class="a" style="left:528px;top:707px;font-size:12px;white-space:nowrap">以定义组（或者单击左键开始定义一组多边形）</div>
<div class="a" style="left:1322px;top:699px;width:1px;height:29px;background:#d0d0d0"></div>
<div class="a" style="left:1344px;top:699px;width:1px;height:29px;background:#d0d0d0"></div>
<svg class="a" style="left:1328px;top:704px" width="15" height="18"><path d="M7 0.8L0.8 10.2h5.2l-1.6 6.4 8.4-10.4h-5z" fill="#5fb230"/></svg>
</body></html>
